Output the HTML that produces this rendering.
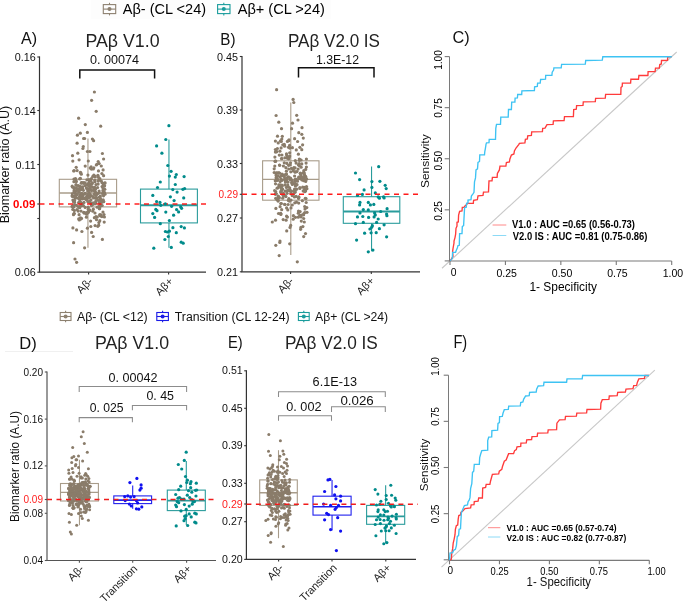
<!DOCTYPE html>
<html><head><meta charset="utf-8"><style>
html,body{margin:0;padding:0;background:#fff;}
svg{display:block;font-family:"Liberation Sans", sans-serif;will-change:transform;}
</style></head><body>
<svg width="685" height="601" viewBox="0 0 685 601">
<rect width="685" height="601" fill="#fff"/>
<rect x="91" y="0" width="240" height="19" fill="#fdfdfd"/>
<rect x="103.3" y="4.6" width="12.4" height="9" fill="none" stroke="#8d8170" stroke-width="1.1"/>
<line x1="103.3" y1="9.1" x2="115.7" y2="9.1" stroke="#8d8170" stroke-width="1.1"/>
<line x1="109.5" y1="2.8" x2="109.5" y2="4.6" stroke="#8d8170" stroke-width="1.1"/>
<line x1="109.5" y1="13.6" x2="109.5" y2="15.4" stroke="#8d8170" stroke-width="1.1"/>
<circle cx="109.5" cy="9.1" r="2.0" fill="#8d8170"/>
<text x="122.8" y="14.3" font-size="14.3" fill="#000" font-weight="normal" text-anchor="start" textLength="83.3" lengthAdjust="spacingAndGlyphs">Aβ- (CL &lt;24)</text>
<rect x="217.6" y="4.6" width="12.4" height="9" fill="none" stroke="#1a9c9c" stroke-width="1.1"/>
<line x1="217.6" y1="9.1" x2="230.0" y2="9.1" stroke="#1a9c9c" stroke-width="1.1"/>
<line x1="223.79999999999998" y1="2.8" x2="223.79999999999998" y2="4.6" stroke="#1a9c9c" stroke-width="1.1"/>
<line x1="223.79999999999998" y1="13.6" x2="223.79999999999998" y2="15.4" stroke="#1a9c9c" stroke-width="1.1"/>
<circle cx="223.8" cy="9.1" r="2.0" fill="#1a9c9c"/>
<text x="237.7" y="14.3" font-size="14.3" fill="#000" font-weight="normal" text-anchor="start" textLength="87.2" lengthAdjust="spacingAndGlyphs">Aβ+ (CL &gt;24)</text>
<text x="21" y="44.4" font-size="17.2" fill="#111" font-weight="normal" text-anchor="start" textLength="16.1" lengthAdjust="spacingAndGlyphs">A)</text>
<text x="85.5" y="46.7" font-size="18" fill="#222" font-weight="normal" text-anchor="start" textLength="74" lengthAdjust="spacingAndGlyphs">PAβ V1.0</text>
<text x="90" y="64.4" font-size="12" fill="#111" font-weight="normal" text-anchor="start" textLength="49" lengthAdjust="spacingAndGlyphs">0. 00074</text>
<path d="M79.8,78.5 V70 H154.6 V78.5" stroke="#111" stroke-width="1.5" fill="none"/>
<text x="0" y="0" font-size="13.4" fill="#111" font-weight="normal" text-anchor="middle" textLength="117.5" lengthAdjust="spacingAndGlyphs" transform="translate(9.2,164.6) rotate(-90)">Biomarker ratio (A.U)</text>
<line x1="39.5" y1="56.4" x2="39.5" y2="272.2" stroke="#333" stroke-width="1.2"/>
<line x1="37.3" y1="57" x2="39.5" y2="57" stroke="#333" stroke-width="1.1"/>
<line x1="37.3" y1="110.5" x2="39.5" y2="110.5" stroke="#333" stroke-width="1.1"/>
<line x1="37.3" y1="164.5" x2="39.5" y2="164.5" stroke="#333" stroke-width="1.1"/>
<line x1="37.3" y1="204" x2="39.5" y2="204" stroke="#333" stroke-width="1.1"/>
<line x1="37.3" y1="218.5" x2="39.5" y2="218.5" stroke="#333" stroke-width="1.1"/>
<line x1="37.3" y1="272.2" x2="39.5" y2="272.2" stroke="#333" stroke-width="1.1"/>
<text x="35.8" y="61" font-size="10.8" fill="#111" font-weight="normal" text-anchor="end">0.16</text>
<text x="35.8" y="114.5" font-size="10.8" fill="#111" font-weight="normal" text-anchor="end">0.14</text>
<text x="35.8" y="168.5" font-size="10.8" fill="#111" font-weight="normal" text-anchor="end">0.11</text>
<text x="35.8" y="276" font-size="10.8" fill="#111" font-weight="normal" text-anchor="end">0.06</text>
<text x="35.3" y="208.3" font-size="11.2" fill="#ff0000" font-weight="bold" text-anchor="end" textLength="22.3" lengthAdjust="spacingAndGlyphs">0.09</text>
<line x1="38.9" y1="272.2" x2="206" y2="272.2" stroke="#333" stroke-width="1.2"/>
<line x1="88.6" y1="272.2" x2="88.6" y2="274.4" stroke="#333" stroke-width="1.1"/>
<line x1="168.6" y1="272.2" x2="168.6" y2="274.4" stroke="#333" stroke-width="1.1"/>
<line x1="87.94999999999999" y1="138.5" x2="87.94999999999999" y2="179.3" stroke="#a89c8a" stroke-width="1.1"/>
<line x1="87.94999999999999" y1="206.9" x2="87.94999999999999" y2="247.8" stroke="#a89c8a" stroke-width="1.1"/>
<rect x="59.3" y="179.3" width="57.3" height="27.599999999999994" fill="none" stroke="#a89c8a" stroke-width="1.1"/>
<line x1="59.3" y1="193" x2="116.6" y2="193" stroke="#a89c8a" stroke-width="1.4"/>
<line x1="168.95" y1="139.5" x2="168.95" y2="189.1" stroke="#2a9c9c" stroke-width="1.1"/>
<line x1="168.95" y1="222.9" x2="168.95" y2="247.7" stroke="#2a9c9c" stroke-width="1.1"/>
<rect x="140.5" y="189.1" width="56.900000000000006" height="33.80000000000001" fill="none" stroke="#2a9c9c" stroke-width="1.1"/>
<line x1="140.5" y1="205.3" x2="197.4" y2="205.3" stroke="#2a9c9c" stroke-width="2"/>
<circle cx="93.6" cy="189.9" r="1.6" fill="#8a7c6a"/>
<circle cx="74.5" cy="202.2" r="1.6" fill="#8a7c6a"/>
<circle cx="74.0" cy="179.1" r="1.6" fill="#8a7c6a"/>
<circle cx="88.8" cy="190.6" r="1.6" fill="#8a7c6a"/>
<circle cx="74.4" cy="210.6" r="1.6" fill="#8a7c6a"/>
<circle cx="75.1" cy="198.0" r="1.6" fill="#8a7c6a"/>
<circle cx="76.2" cy="167.3" r="1.6" fill="#8a7c6a"/>
<circle cx="79.5" cy="207.7" r="1.6" fill="#8a7c6a"/>
<circle cx="91.1" cy="166.9" r="1.6" fill="#8a7c6a"/>
<circle cx="85.2" cy="166.1" r="1.6" fill="#8a7c6a"/>
<circle cx="100.4" cy="198.9" r="1.6" fill="#8a7c6a"/>
<circle cx="81.7" cy="193.3" r="1.6" fill="#8a7c6a"/>
<circle cx="82.3" cy="198.9" r="1.6" fill="#8a7c6a"/>
<circle cx="99.0" cy="200.3" r="1.6" fill="#8a7c6a"/>
<circle cx="93.2" cy="202.9" r="1.6" fill="#8a7c6a"/>
<circle cx="84.4" cy="213.2" r="1.6" fill="#8a7c6a"/>
<circle cx="74.1" cy="188.5" r="1.6" fill="#8a7c6a"/>
<circle cx="78.9" cy="192.3" r="1.6" fill="#8a7c6a"/>
<circle cx="82.5" cy="186.8" r="1.6" fill="#8a7c6a"/>
<circle cx="91.4" cy="178.7" r="1.6" fill="#8a7c6a"/>
<circle cx="98.3" cy="181.1" r="1.6" fill="#8a7c6a"/>
<circle cx="95.2" cy="197.9" r="1.6" fill="#8a7c6a"/>
<circle cx="89.4" cy="194.8" r="1.6" fill="#8a7c6a"/>
<circle cx="101.0" cy="214.9" r="1.6" fill="#8a7c6a"/>
<circle cx="104.4" cy="192.3" r="1.6" fill="#8a7c6a"/>
<circle cx="76.0" cy="180.9" r="1.6" fill="#8a7c6a"/>
<circle cx="77.1" cy="170.6" r="1.6" fill="#8a7c6a"/>
<circle cx="88.2" cy="207.2" r="1.6" fill="#8a7c6a"/>
<circle cx="97.3" cy="217.0" r="1.6" fill="#8a7c6a"/>
<circle cx="91.0" cy="199.8" r="1.6" fill="#8a7c6a"/>
<circle cx="95.0" cy="203.8" r="1.6" fill="#8a7c6a"/>
<circle cx="91.7" cy="184.2" r="1.6" fill="#8a7c6a"/>
<circle cx="99.8" cy="178.5" r="1.6" fill="#8a7c6a"/>
<circle cx="103.3" cy="185.5" r="1.6" fill="#8a7c6a"/>
<circle cx="74.1" cy="170.7" r="1.6" fill="#8a7c6a"/>
<circle cx="95.2" cy="197.8" r="1.6" fill="#8a7c6a"/>
<circle cx="99.2" cy="163.6" r="1.6" fill="#8a7c6a"/>
<circle cx="94.2" cy="190.6" r="1.6" fill="#8a7c6a"/>
<circle cx="72.8" cy="209.4" r="1.6" fill="#8a7c6a"/>
<circle cx="76.0" cy="184.6" r="1.6" fill="#8a7c6a"/>
<circle cx="74.0" cy="196.3" r="1.6" fill="#8a7c6a"/>
<circle cx="80.3" cy="195.0" r="1.6" fill="#8a7c6a"/>
<circle cx="85.0" cy="185.6" r="1.6" fill="#8a7c6a"/>
<circle cx="86.9" cy="198.5" r="1.6" fill="#8a7c6a"/>
<circle cx="90.2" cy="189.3" r="1.6" fill="#8a7c6a"/>
<circle cx="100.6" cy="216.0" r="1.6" fill="#8a7c6a"/>
<circle cx="81.3" cy="174.2" r="1.6" fill="#8a7c6a"/>
<circle cx="101.3" cy="181.0" r="1.6" fill="#8a7c6a"/>
<circle cx="103.7" cy="201.7" r="1.6" fill="#8a7c6a"/>
<circle cx="79.8" cy="199.8" r="1.6" fill="#8a7c6a"/>
<circle cx="79.8" cy="202.1" r="1.6" fill="#8a7c6a"/>
<circle cx="80.8" cy="172.8" r="1.6" fill="#8a7c6a"/>
<circle cx="72.2" cy="196.0" r="1.6" fill="#8a7c6a"/>
<circle cx="90.8" cy="180.6" r="1.6" fill="#8a7c6a"/>
<circle cx="103.6" cy="201.5" r="1.6" fill="#8a7c6a"/>
<circle cx="92.5" cy="187.0" r="1.6" fill="#8a7c6a"/>
<circle cx="94.4" cy="176.1" r="1.6" fill="#8a7c6a"/>
<circle cx="97.8" cy="226.3" r="1.6" fill="#8a7c6a"/>
<circle cx="101.0" cy="205.4" r="1.6" fill="#8a7c6a"/>
<circle cx="85.3" cy="198.7" r="1.6" fill="#8a7c6a"/>
<circle cx="75.5" cy="178.7" r="1.6" fill="#8a7c6a"/>
<circle cx="74.3" cy="190.2" r="1.6" fill="#8a7c6a"/>
<circle cx="79.0" cy="189.7" r="1.6" fill="#8a7c6a"/>
<circle cx="73.8" cy="201.6" r="1.6" fill="#8a7c6a"/>
<circle cx="72.1" cy="206.4" r="1.6" fill="#8a7c6a"/>
<circle cx="84.1" cy="198.3" r="1.6" fill="#8a7c6a"/>
<circle cx="72.9" cy="200.0" r="1.6" fill="#8a7c6a"/>
<circle cx="77.0" cy="209.5" r="1.6" fill="#8a7c6a"/>
<circle cx="80.4" cy="178.3" r="1.6" fill="#8a7c6a"/>
<circle cx="76.2" cy="185.3" r="1.6" fill="#8a7c6a"/>
<circle cx="100.1" cy="206.5" r="1.6" fill="#8a7c6a"/>
<circle cx="88.1" cy="211.9" r="1.6" fill="#8a7c6a"/>
<circle cx="74.9" cy="193.2" r="1.6" fill="#8a7c6a"/>
<circle cx="80.8" cy="205.7" r="1.6" fill="#8a7c6a"/>
<circle cx="99.5" cy="202.8" r="1.6" fill="#8a7c6a"/>
<circle cx="103.5" cy="195.8" r="1.6" fill="#8a7c6a"/>
<circle cx="89.5" cy="196.9" r="1.6" fill="#8a7c6a"/>
<circle cx="73.0" cy="206.1" r="1.6" fill="#8a7c6a"/>
<circle cx="89.5" cy="209.9" r="1.6" fill="#8a7c6a"/>
<circle cx="95.1" cy="225.6" r="1.6" fill="#8a7c6a"/>
<circle cx="80.7" cy="189.7" r="1.6" fill="#8a7c6a"/>
<circle cx="97.6" cy="187.5" r="1.6" fill="#8a7c6a"/>
<circle cx="89.7" cy="201.2" r="1.6" fill="#8a7c6a"/>
<circle cx="79.5" cy="196.6" r="1.6" fill="#8a7c6a"/>
<circle cx="98.9" cy="179.9" r="1.6" fill="#8a7c6a"/>
<circle cx="98.7" cy="225.2" r="1.6" fill="#8a7c6a"/>
<circle cx="99.1" cy="191.0" r="1.6" fill="#8a7c6a"/>
<circle cx="89.2" cy="193.3" r="1.6" fill="#8a7c6a"/>
<circle cx="83.8" cy="182.5" r="1.6" fill="#8a7c6a"/>
<circle cx="81.3" cy="197.7" r="1.6" fill="#8a7c6a"/>
<circle cx="80.7" cy="194.7" r="1.6" fill="#8a7c6a"/>
<circle cx="86.9" cy="179.8" r="1.6" fill="#8a7c6a"/>
<circle cx="103.6" cy="175.7" r="1.6" fill="#8a7c6a"/>
<circle cx="79.6" cy="186.6" r="1.6" fill="#8a7c6a"/>
<circle cx="78.6" cy="202.5" r="1.6" fill="#8a7c6a"/>
<circle cx="101.8" cy="200.3" r="1.6" fill="#8a7c6a"/>
<circle cx="99.8" cy="215.5" r="1.6" fill="#8a7c6a"/>
<circle cx="98.5" cy="170.9" r="1.6" fill="#8a7c6a"/>
<circle cx="74.9" cy="197.0" r="1.6" fill="#8a7c6a"/>
<circle cx="97.9" cy="175.3" r="1.6" fill="#8a7c6a"/>
<circle cx="96.9" cy="164.3" r="1.6" fill="#8a7c6a"/>
<circle cx="98.1" cy="184.1" r="1.6" fill="#8a7c6a"/>
<circle cx="83.1" cy="195.4" r="1.6" fill="#8a7c6a"/>
<circle cx="85.2" cy="207.4" r="1.6" fill="#8a7c6a"/>
<circle cx="96.0" cy="216.5" r="1.6" fill="#8a7c6a"/>
<circle cx="77.1" cy="198.0" r="1.6" fill="#8a7c6a"/>
<circle cx="102.0" cy="201.3" r="1.6" fill="#8a7c6a"/>
<circle cx="99.4" cy="197.1" r="1.6" fill="#8a7c6a"/>
<circle cx="104.5" cy="185.6" r="1.6" fill="#8a7c6a"/>
<circle cx="90.2" cy="185.8" r="1.6" fill="#8a7c6a"/>
<circle cx="76.4" cy="181.6" r="1.6" fill="#8a7c6a"/>
<circle cx="93.5" cy="197.8" r="1.6" fill="#8a7c6a"/>
<circle cx="86.4" cy="187.8" r="1.6" fill="#8a7c6a"/>
<circle cx="79.1" cy="214.7" r="1.6" fill="#8a7c6a"/>
<circle cx="80.4" cy="172.4" r="1.6" fill="#8a7c6a"/>
<circle cx="91.5" cy="190.8" r="1.6" fill="#8a7c6a"/>
<circle cx="80.7" cy="205.4" r="1.6" fill="#8a7c6a"/>
<circle cx="102.1" cy="186.6" r="1.6" fill="#8a7c6a"/>
<circle cx="83.8" cy="198.1" r="1.6" fill="#8a7c6a"/>
<circle cx="101.9" cy="173.6" r="1.6" fill="#8a7c6a"/>
<circle cx="86.0" cy="199.5" r="1.6" fill="#8a7c6a"/>
<circle cx="89.7" cy="210.4" r="1.6" fill="#8a7c6a"/>
<circle cx="89.4" cy="184.7" r="1.6" fill="#8a7c6a"/>
<circle cx="78.1" cy="211.1" r="1.6" fill="#8a7c6a"/>
<circle cx="72.2" cy="196.0" r="1.6" fill="#8a7c6a"/>
<circle cx="87.7" cy="197.0" r="1.6" fill="#8a7c6a"/>
<circle cx="96.0" cy="184.6" r="1.6" fill="#8a7c6a"/>
<circle cx="89.2" cy="180.7" r="1.6" fill="#8a7c6a"/>
<circle cx="90.4" cy="189.1" r="1.6" fill="#8a7c6a"/>
<circle cx="90.6" cy="195.6" r="1.6" fill="#8a7c6a"/>
<circle cx="80.3" cy="186.6" r="1.6" fill="#8a7c6a"/>
<circle cx="88.9" cy="189.4" r="1.6" fill="#8a7c6a"/>
<circle cx="90.6" cy="221.1" r="1.6" fill="#8a7c6a"/>
<circle cx="86.7" cy="196.2" r="1.6" fill="#8a7c6a"/>
<circle cx="89.0" cy="179.6" r="1.6" fill="#8a7c6a"/>
<circle cx="95.0" cy="181.7" r="1.6" fill="#8a7c6a"/>
<circle cx="87.9" cy="175.1" r="1.6" fill="#8a7c6a"/>
<circle cx="103.2" cy="199.8" r="1.6" fill="#8a7c6a"/>
<circle cx="103.2" cy="183.7" r="1.6" fill="#8a7c6a"/>
<circle cx="103.2" cy="192.8" r="1.6" fill="#8a7c6a"/>
<circle cx="99.8" cy="214.5" r="1.6" fill="#8a7c6a"/>
<circle cx="86.7" cy="199.3" r="1.6" fill="#8a7c6a"/>
<circle cx="74.5" cy="200.2" r="1.6" fill="#8a7c6a"/>
<circle cx="94.2" cy="194.4" r="1.6" fill="#8a7c6a"/>
<circle cx="98.0" cy="200.2" r="1.6" fill="#8a7c6a"/>
<circle cx="95.7" cy="201.4" r="1.6" fill="#8a7c6a"/>
<circle cx="93.9" cy="188.4" r="1.6" fill="#8a7c6a"/>
<circle cx="104.0" cy="214.6" r="1.6" fill="#8a7c6a"/>
<circle cx="79.3" cy="219.9" r="1.6" fill="#8a7c6a"/>
<circle cx="88.2" cy="209.4" r="1.6" fill="#8a7c6a"/>
<circle cx="104.8" cy="189.3" r="1.6" fill="#8a7c6a"/>
<circle cx="86.3" cy="198.7" r="1.6" fill="#8a7c6a"/>
<circle cx="89.1" cy="185.8" r="1.6" fill="#8a7c6a"/>
<circle cx="82.6" cy="188.4" r="1.6" fill="#8a7c6a"/>
<circle cx="95.9" cy="202.9" r="1.6" fill="#8a7c6a"/>
<circle cx="86.6" cy="214.2" r="1.6" fill="#8a7c6a"/>
<circle cx="72.7" cy="196.5" r="1.6" fill="#8a7c6a"/>
<circle cx="89.0" cy="183.0" r="1.6" fill="#8a7c6a"/>
<circle cx="74.2" cy="213.5" r="1.6" fill="#8a7c6a"/>
<circle cx="104.2" cy="222.1" r="1.6" fill="#8a7c6a"/>
<circle cx="75.6" cy="191.4" r="1.6" fill="#8a7c6a"/>
<circle cx="97.8" cy="193.6" r="1.6" fill="#8a7c6a"/>
<circle cx="81.0" cy="198.5" r="1.6" fill="#8a7c6a"/>
<circle cx="102.2" cy="205.5" r="1.6" fill="#8a7c6a"/>
<circle cx="99.1" cy="206.2" r="1.6" fill="#8a7c6a"/>
<circle cx="102.4" cy="193.5" r="1.6" fill="#8a7c6a"/>
<circle cx="90.9" cy="203.1" r="1.6" fill="#8a7c6a"/>
<circle cx="74.0" cy="191.9" r="1.6" fill="#8a7c6a"/>
<circle cx="94.8" cy="187.4" r="1.6" fill="#8a7c6a"/>
<circle cx="103.1" cy="188.5" r="1.6" fill="#8a7c6a"/>
<circle cx="93.0" cy="196.8" r="1.6" fill="#8a7c6a"/>
<circle cx="100.4" cy="196.1" r="1.6" fill="#8a7c6a"/>
<circle cx="74.3" cy="187.7" r="1.6" fill="#8a7c6a"/>
<circle cx="83.3" cy="205.5" r="1.6" fill="#8a7c6a"/>
<circle cx="90.4" cy="180.6" r="1.6" fill="#8a7c6a"/>
<circle cx="76.4" cy="205.3" r="1.6" fill="#8a7c6a"/>
<circle cx="89.5" cy="188.4" r="1.6" fill="#8a7c6a"/>
<circle cx="77.4" cy="194.6" r="1.6" fill="#8a7c6a"/>
<circle cx="73.8" cy="201.7" r="1.6" fill="#8a7c6a"/>
<circle cx="82.2" cy="198.1" r="1.6" fill="#8a7c6a"/>
<circle cx="97.2" cy="207.2" r="1.6" fill="#8a7c6a"/>
<circle cx="78.0" cy="189.3" r="1.6" fill="#8a7c6a"/>
<circle cx="83.6" cy="212.3" r="1.6" fill="#8a7c6a"/>
<circle cx="72.6" cy="206.1" r="1.6" fill="#8a7c6a"/>
<circle cx="96.3" cy="195.4" r="1.6" fill="#8a7c6a"/>
<circle cx="87.8" cy="184.2" r="1.6" fill="#8a7c6a"/>
<circle cx="102.9" cy="190.7" r="1.6" fill="#8a7c6a"/>
<circle cx="86.4" cy="217.2" r="1.6" fill="#8a7c6a"/>
<circle cx="88.4" cy="212.3" r="1.6" fill="#8a7c6a"/>
<circle cx="88.8" cy="202.1" r="1.6" fill="#8a7c6a"/>
<circle cx="94.8" cy="180.2" r="1.6" fill="#8a7c6a"/>
<circle cx="99.6" cy="208.6" r="1.6" fill="#8a7c6a"/>
<circle cx="95.4" cy="192.4" r="1.6" fill="#8a7c6a"/>
<circle cx="83.6" cy="183.3" r="1.6" fill="#8a7c6a"/>
<circle cx="73.9" cy="181.7" r="1.6" fill="#8a7c6a"/>
<circle cx="96.5" cy="198.2" r="1.6" fill="#8a7c6a"/>
<circle cx="80.5" cy="198.5" r="1.6" fill="#8a7c6a"/>
<circle cx="99.9" cy="197.5" r="1.6" fill="#8a7c6a"/>
<circle cx="100.8" cy="199.7" r="1.6" fill="#8a7c6a"/>
<circle cx="80.1" cy="187.8" r="1.6" fill="#8a7c6a"/>
<circle cx="81.8" cy="182.6" r="1.6" fill="#8a7c6a"/>
<circle cx="86.8" cy="184.9" r="1.6" fill="#8a7c6a"/>
<circle cx="80.8" cy="196.4" r="1.6" fill="#8a7c6a"/>
<circle cx="90.2" cy="183.8" r="1.6" fill="#8a7c6a"/>
<circle cx="82.3" cy="195.4" r="1.6" fill="#8a7c6a"/>
<circle cx="84.7" cy="193.5" r="1.6" fill="#8a7c6a"/>
<circle cx="87.8" cy="194.6" r="1.6" fill="#8a7c6a"/>
<circle cx="88.8" cy="183.3" r="1.6" fill="#8a7c6a"/>
<circle cx="72.3" cy="193.8" r="1.6" fill="#8a7c6a"/>
<circle cx="85.3" cy="193.4" r="1.6" fill="#8a7c6a"/>
<circle cx="73.5" cy="200.9" r="1.6" fill="#8a7c6a"/>
<circle cx="79.8" cy="207.5" r="1.6" fill="#8a7c6a"/>
<circle cx="91.4" cy="195.9" r="1.6" fill="#8a7c6a"/>
<circle cx="93.8" cy="167.8" r="1.6" fill="#8a7c6a"/>
<circle cx="95.7" cy="189.1" r="1.6" fill="#8a7c6a"/>
<circle cx="82.9" cy="205.5" r="1.6" fill="#8a7c6a"/>
<circle cx="104.6" cy="183.1" r="1.6" fill="#8a7c6a"/>
<circle cx="93.3" cy="209.2" r="1.6" fill="#8a7c6a"/>
<circle cx="73.5" cy="214.7" r="1.6" fill="#8a7c6a"/>
<circle cx="92.8" cy="211.2" r="1.6" fill="#8a7c6a"/>
<circle cx="96.3" cy="165.0" r="1.6" fill="#8a7c6a"/>
<circle cx="89.4" cy="197.3" r="1.6" fill="#8a7c6a"/>
<circle cx="88.7" cy="185.9" r="1.6" fill="#8a7c6a"/>
<circle cx="99.4" cy="208.7" r="1.6" fill="#8a7c6a"/>
<circle cx="91.4" cy="169.1" r="1.6" fill="#8a7c6a"/>
<circle cx="95.0" cy="213.0" r="1.6" fill="#8a7c6a"/>
<circle cx="79.7" cy="178.9" r="1.6" fill="#8a7c6a"/>
<circle cx="84.0" cy="202.4" r="1.6" fill="#8a7c6a"/>
<circle cx="75.6" cy="195.7" r="1.6" fill="#8a7c6a"/>
<circle cx="92.8" cy="204.5" r="1.6" fill="#8a7c6a"/>
<circle cx="92.8" cy="176.4" r="1.6" fill="#8a7c6a"/>
<circle cx="72.2" cy="186.2" r="1.6" fill="#8a7c6a"/>
<circle cx="98.4" cy="177.2" r="1.6" fill="#8a7c6a"/>
<circle cx="89.8" cy="193.8" r="1.6" fill="#8a7c6a"/>
<circle cx="93.9" cy="175.1" r="1.6" fill="#8a7c6a"/>
<circle cx="80.4" cy="217.9" r="1.6" fill="#8a7c6a"/>
<circle cx="74.6" cy="204.5" r="1.6" fill="#8a7c6a"/>
<circle cx="78.9" cy="191.5" r="1.6" fill="#8a7c6a"/>
<circle cx="96.5" cy="219.7" r="1.6" fill="#8a7c6a"/>
<circle cx="84.7" cy="212.5" r="1.6" fill="#8a7c6a"/>
<circle cx="87.9" cy="191.2" r="1.6" fill="#8a7c6a"/>
<circle cx="92.5" cy="182.9" r="1.6" fill="#8a7c6a"/>
<circle cx="93.3" cy="169.0" r="1.6" fill="#8a7c6a"/>
<circle cx="80.5" cy="202.0" r="1.6" fill="#8a7c6a"/>
<circle cx="96.6" cy="198.2" r="1.6" fill="#8a7c6a"/>
<circle cx="72.5" cy="187.1" r="1.6" fill="#8a7c6a"/>
<circle cx="74.1" cy="213.5" r="1.6" fill="#8a7c6a"/>
<circle cx="94.9" cy="191.2" r="1.6" fill="#8a7c6a"/>
<circle cx="94.4" cy="217.7" r="1.6" fill="#8a7c6a"/>
<circle cx="87.4" cy="189.1" r="1.6" fill="#8a7c6a"/>
<circle cx="87.5" cy="212.7" r="1.6" fill="#8a7c6a"/>
<circle cx="78.7" cy="218.9" r="1.6" fill="#8a7c6a"/>
<circle cx="104.4" cy="217.0" r="1.6" fill="#8a7c6a"/>
<circle cx="87.2" cy="196.8" r="1.6" fill="#8a7c6a"/>
<circle cx="99.2" cy="192.8" r="1.6" fill="#8a7c6a"/>
<circle cx="81.0" cy="211.1" r="1.6" fill="#8a7c6a"/>
<circle cx="79.0" cy="190.5" r="1.6" fill="#8a7c6a"/>
<circle cx="91.3" cy="204.4" r="1.6" fill="#8a7c6a"/>
<circle cx="76.8" cy="190.3" r="1.6" fill="#8a7c6a"/>
<circle cx="76.5" cy="188.0" r="1.6" fill="#8a7c6a"/>
<circle cx="101.4" cy="202.1" r="1.6" fill="#8a7c6a"/>
<circle cx="95.3" cy="176.7" r="1.6" fill="#8a7c6a"/>
<circle cx="88.1" cy="198.0" r="1.6" fill="#8a7c6a"/>
<circle cx="72.9" cy="227.9" r="1.6" fill="#8a7c6a"/>
<circle cx="87.0" cy="212.6" r="1.6" fill="#8a7c6a"/>
<circle cx="82.1" cy="194.4" r="1.6" fill="#8a7c6a"/>
<circle cx="82.5" cy="203.3" r="1.6" fill="#8a7c6a"/>
<circle cx="99.8" cy="205.4" r="1.6" fill="#8a7c6a"/>
<circle cx="99.8" cy="220.7" r="1.6" fill="#8a7c6a"/>
<circle cx="76.1" cy="194.3" r="1.6" fill="#8a7c6a"/>
<circle cx="101.9" cy="216.6" r="1.6" fill="#8a7c6a"/>
<circle cx="81.7" cy="182.7" r="1.6" fill="#8a7c6a"/>
<circle cx="105.1" cy="182.9" r="1.6" fill="#8a7c6a"/>
<circle cx="91.5" cy="205.5" r="1.6" fill="#8a7c6a"/>
<circle cx="81.2" cy="183.2" r="1.6" fill="#8a7c6a"/>
<circle cx="73.7" cy="207.0" r="1.6" fill="#8a7c6a"/>
<circle cx="81.5" cy="218.4" r="1.6" fill="#8a7c6a"/>
<circle cx="103.0" cy="212.1" r="1.6" fill="#8a7c6a"/>
<circle cx="89.0" cy="194.1" r="1.6" fill="#8a7c6a"/>
<circle cx="78.4" cy="206.6" r="1.6" fill="#8a7c6a"/>
<circle cx="101.3" cy="166.0" r="1.6" fill="#8a7c6a"/>
<circle cx="98.9" cy="222.6" r="1.6" fill="#8a7c6a"/>
<circle cx="103.1" cy="169.9" r="1.6" fill="#8a7c6a"/>
<circle cx="90.2" cy="168.1" r="1.6" fill="#8a7c6a"/>
<circle cx="96.3" cy="193.0" r="1.6" fill="#8a7c6a"/>
<circle cx="87.0" cy="189.0" r="1.6" fill="#8a7c6a"/>
<circle cx="81.5" cy="194.4" r="1.6" fill="#8a7c6a"/>
<circle cx="73.7" cy="171.0" r="1.6" fill="#8a7c6a"/>
<circle cx="87.7" cy="201.5" r="1.6" fill="#8a7c6a"/>
<circle cx="83.4" cy="190.3" r="1.6" fill="#8a7c6a"/>
<circle cx="104.3" cy="186.2" r="1.6" fill="#8a7c6a"/>
<circle cx="80.7" cy="219.1" r="1.6" fill="#8a7c6a"/>
<circle cx="90.5" cy="186.5" r="1.6" fill="#8a7c6a"/>
<circle cx="85.1" cy="182.8" r="1.6" fill="#8a7c6a"/>
<circle cx="79.0" cy="198.7" r="1.6" fill="#8a7c6a"/>
<circle cx="102.0" cy="202.2" r="1.6" fill="#8a7c6a"/>
<circle cx="102.0" cy="182.7" r="1.6" fill="#8a7c6a"/>
<circle cx="105.0" cy="194.2" r="1.6" fill="#8a7c6a"/>
<circle cx="78.4" cy="185.7" r="1.6" fill="#8a7c6a"/>
<circle cx="75.1" cy="196.7" r="1.6" fill="#8a7c6a"/>
<circle cx="94.4" cy="92.0" r="1.6" fill="#8a7c6a"/>
<circle cx="91.6" cy="100.3" r="1.6" fill="#8a7c6a"/>
<circle cx="96.2" cy="111.3" r="1.6" fill="#8a7c6a"/>
<circle cx="78.6" cy="118.2" r="1.6" fill="#8a7c6a"/>
<circle cx="85.3" cy="124.6" r="1.6" fill="#8a7c6a"/>
<circle cx="100.7" cy="126.2" r="1.6" fill="#8a7c6a"/>
<circle cx="77.4" cy="135.2" r="1.6" fill="#8a7c6a"/>
<circle cx="80.3" cy="133.2" r="1.6" fill="#8a7c6a"/>
<circle cx="87.4" cy="132.4" r="1.6" fill="#8a7c6a"/>
<circle cx="83.6" cy="138.5" r="1.6" fill="#8a7c6a"/>
<circle cx="84.6" cy="138.5" r="1.6" fill="#8a7c6a"/>
<circle cx="92.4" cy="139.0" r="1.6" fill="#8a7c6a"/>
<circle cx="93.6" cy="140.7" r="1.6" fill="#8a7c6a"/>
<circle cx="77.1" cy="143.2" r="1.6" fill="#8a7c6a"/>
<circle cx="83.3" cy="146.5" r="1.6" fill="#8a7c6a"/>
<circle cx="82.9" cy="148.5" r="1.6" fill="#8a7c6a"/>
<circle cx="77.8" cy="153.2" r="1.6" fill="#8a7c6a"/>
<circle cx="87.4" cy="151.5" r="1.6" fill="#8a7c6a"/>
<circle cx="89.9" cy="151.5" r="1.6" fill="#8a7c6a"/>
<circle cx="102.4" cy="153.5" r="1.6" fill="#8a7c6a"/>
<circle cx="72.5" cy="155.7" r="1.6" fill="#8a7c6a"/>
<circle cx="72.8" cy="161.1" r="1.6" fill="#8a7c6a"/>
<circle cx="79.1" cy="159.8" r="1.6" fill="#8a7c6a"/>
<circle cx="88.3" cy="161.0" r="1.6" fill="#8a7c6a"/>
<circle cx="98.2" cy="161.5" r="1.6" fill="#8a7c6a"/>
<circle cx="103.6" cy="159.0" r="1.6" fill="#8a7c6a"/>
<circle cx="73.6" cy="242.7" r="1.6" fill="#8a7c6a"/>
<circle cx="84.6" cy="247.8" r="1.6" fill="#8a7c6a"/>
<circle cx="102.4" cy="239.4" r="1.6" fill="#8a7c6a"/>
<circle cx="75.0" cy="259.0" r="1.6" fill="#8a7c6a"/>
<circle cx="76.6" cy="262.3" r="1.6" fill="#8a7c6a"/>
<circle cx="76.6" cy="229.9" r="1.6" fill="#8a7c6a"/>
<circle cx="81.9" cy="231.5" r="1.6" fill="#8a7c6a"/>
<circle cx="91.6" cy="232.4" r="1.6" fill="#8a7c6a"/>
<circle cx="93.2" cy="236.5" r="1.6" fill="#8a7c6a"/>
<circle cx="87.4" cy="228.2" r="1.6" fill="#8a7c6a"/>
<circle cx="90.8" cy="226.5" r="1.6" fill="#8a7c6a"/>
<line x1="39.5" y1="203.9" x2="206" y2="203.9" stroke="#ff0000" stroke-opacity="0.65" stroke-width="2.0" stroke-dasharray="5,4.5"/>
<circle cx="168.9" cy="125.7" r="1.6" fill="#008b8b"/>
<circle cx="165.8" cy="139.5" r="1.6" fill="#008b8b"/>
<circle cx="156.6" cy="145.9" r="1.6" fill="#008b8b"/>
<circle cx="161.9" cy="153.2" r="1.6" fill="#008b8b"/>
<circle cx="167.8" cy="165.5" r="1.6" fill="#008b8b"/>
<circle cx="171.1" cy="171.3" r="1.6" fill="#008b8b"/>
<circle cx="176.3" cy="174.5" r="1.6" fill="#008b8b"/>
<circle cx="169.4" cy="176.1" r="1.6" fill="#008b8b"/>
<circle cx="175.3" cy="177.1" r="1.6" fill="#008b8b"/>
<circle cx="184.1" cy="176.6" r="1.6" fill="#008b8b"/>
<circle cx="160.3" cy="182.0" r="1.6" fill="#008b8b"/>
<circle cx="175.3" cy="184.5" r="1.6" fill="#008b8b"/>
<circle cx="157.5" cy="187.5" r="1.6" fill="#008b8b"/>
<circle cx="172.8" cy="189.6" r="1.6" fill="#008b8b"/>
<circle cx="177.1" cy="192.1" r="1.6" fill="#008b8b"/>
<circle cx="182.9" cy="189.3" r="1.6" fill="#008b8b"/>
<circle cx="184.6" cy="188.6" r="1.6" fill="#008b8b"/>
<circle cx="152.8" cy="195.4" r="1.6" fill="#008b8b"/>
<circle cx="170.4" cy="196.8" r="1.6" fill="#008b8b"/>
<circle cx="183.7" cy="197.9" r="1.6" fill="#008b8b"/>
<circle cx="174.1" cy="200.6" r="1.6" fill="#008b8b"/>
<circle cx="156.6" cy="201.6" r="1.6" fill="#008b8b"/>
<circle cx="160.0" cy="202.4" r="1.6" fill="#008b8b"/>
<circle cx="165.3" cy="203.8" r="1.6" fill="#008b8b"/>
<circle cx="160.8" cy="205.3" r="1.6" fill="#008b8b"/>
<circle cx="171.6" cy="206.3" r="1.6" fill="#008b8b"/>
<circle cx="180.7" cy="206.9" r="1.6" fill="#008b8b"/>
<circle cx="181.6" cy="208.3" r="1.6" fill="#008b8b"/>
<circle cx="155.8" cy="209.4" r="1.6" fill="#008b8b"/>
<circle cx="157.0" cy="210.7" r="1.6" fill="#008b8b"/>
<circle cx="176.6" cy="209.6" r="1.6" fill="#008b8b"/>
<circle cx="178.6" cy="211.9" r="1.6" fill="#008b8b"/>
<circle cx="165.8" cy="212.1" r="1.6" fill="#008b8b"/>
<circle cx="152.8" cy="213.6" r="1.6" fill="#008b8b"/>
<circle cx="173.6" cy="215.2" r="1.6" fill="#008b8b"/>
<circle cx="154.6" cy="217.4" r="1.6" fill="#008b8b"/>
<circle cx="169.4" cy="220.6" r="1.6" fill="#008b8b"/>
<circle cx="160.3" cy="223.7" r="1.6" fill="#008b8b"/>
<circle cx="172.9" cy="227.7" r="1.6" fill="#008b8b"/>
<circle cx="181.2" cy="226.6" r="1.6" fill="#008b8b"/>
<circle cx="184.4" cy="227.9" r="1.6" fill="#008b8b"/>
<circle cx="165.4" cy="231.5" r="1.6" fill="#008b8b"/>
<circle cx="167.4" cy="232.0" r="1.6" fill="#008b8b"/>
<circle cx="169.4" cy="231.2" r="1.6" fill="#008b8b"/>
<circle cx="176.3" cy="232.7" r="1.6" fill="#008b8b"/>
<circle cx="168.3" cy="236.5" r="1.6" fill="#008b8b"/>
<circle cx="164.9" cy="239.5" r="1.6" fill="#008b8b"/>
<circle cx="181.2" cy="242.2" r="1.6" fill="#008b8b"/>
<circle cx="183.2" cy="243.2" r="1.6" fill="#008b8b"/>
<circle cx="153.8" cy="248.2" r="1.6" fill="#008b8b"/>
<circle cx="171.3" cy="247.4" r="1.6" fill="#008b8b"/>
<text x="0" y="0" font-size="10.9" fill="#222" text-anchor="end" transform="translate(93.2,282.1) rotate(-45)">Aβ-</text>
<text x="0" y="0" font-size="10.9" fill="#222" text-anchor="end" transform="translate(173.7,282.1) rotate(-45)">Aβ+</text>
<text x="220.3" y="45" font-size="17.2" fill="#111" font-weight="normal" text-anchor="start" textLength="15.2" lengthAdjust="spacingAndGlyphs">B)</text>
<text x="288" y="46.7" font-size="18" fill="#222" font-weight="normal" text-anchor="start" textLength="92" lengthAdjust="spacingAndGlyphs">PAβ V2.0 IS</text>
<text x="316" y="63.9" font-size="12" fill="#111" font-weight="normal" text-anchor="start" textLength="43" lengthAdjust="spacingAndGlyphs">1.3E-12</text>
<path d="M298.5,77.4 V67.7 H374 V77.4" stroke="#111" stroke-width="1.5" fill="none"/>
<line x1="242" y1="55.9" x2="242" y2="271.8" stroke="#333" stroke-width="1.2"/>
<line x1="239.8" y1="56.5" x2="242" y2="56.5" stroke="#333" stroke-width="1.1"/>
<line x1="239.8" y1="110" x2="242" y2="110" stroke="#333" stroke-width="1.1"/>
<line x1="239.8" y1="163.5" x2="242" y2="163.5" stroke="#333" stroke-width="1.1"/>
<line x1="239.8" y1="194.3" x2="242" y2="194.3" stroke="#333" stroke-width="1.1"/>
<line x1="239.8" y1="218" x2="242" y2="218" stroke="#333" stroke-width="1.1"/>
<line x1="239.8" y1="271.8" x2="242" y2="271.8" stroke="#333" stroke-width="1.1"/>
<text x="238" y="60.5" font-size="10.8" fill="#111" font-weight="normal" text-anchor="end">0.45</text>
<text x="238" y="114" font-size="10.8" fill="#111" font-weight="normal" text-anchor="end">0.39</text>
<text x="238" y="167.5" font-size="10.8" fill="#111" font-weight="normal" text-anchor="end">0.33</text>
<text x="238" y="222" font-size="10.8" fill="#111" font-weight="normal" text-anchor="end">0.27</text>
<text x="238" y="275.5" font-size="10.8" fill="#111" font-weight="normal" text-anchor="end">0.21</text>
<text x="238" y="198.3" font-size="10" fill="#ff2020" font-weight="normal" text-anchor="end">0.29</text>
<line x1="241.4" y1="271.8" x2="420" y2="271.8" stroke="#333" stroke-width="1.2"/>
<line x1="290.6" y1="271.8" x2="290.6" y2="274.0" stroke="#333" stroke-width="1.1"/>
<line x1="371.3" y1="271.8" x2="371.3" y2="274.0" stroke="#333" stroke-width="1.1"/>
<line x1="290.8" y1="102.5" x2="290.8" y2="160.8" stroke="#a89c8a" stroke-width="1.1"/>
<line x1="290.8" y1="200.2" x2="290.8" y2="255" stroke="#a89c8a" stroke-width="1.1"/>
<rect x="262.6" y="160.8" width="56.39999999999998" height="39.39999999999998" fill="none" stroke="#a89c8a" stroke-width="1.1"/>
<line x1="262.6" y1="179.4" x2="319" y2="179.4" stroke="#a89c8a" stroke-width="1.4"/>
<line x1="371.55" y1="166.6" x2="371.55" y2="196.7" stroke="#2a9c9c" stroke-width="1.1"/>
<line x1="371.55" y1="223.3" x2="371.55" y2="251.3" stroke="#2a9c9c" stroke-width="1.1"/>
<rect x="343.3" y="196.7" width="56.5" height="26.600000000000023" fill="none" stroke="#2a9c9c" stroke-width="1.1"/>
<line x1="343.3" y1="211.4" x2="399.8" y2="211.4" stroke="#2a9c9c" stroke-width="2"/>
<circle cx="282.0" cy="174.0" r="1.6" fill="#8a7c6a"/>
<circle cx="282.6" cy="189.2" r="1.6" fill="#8a7c6a"/>
<circle cx="298.8" cy="132.7" r="1.6" fill="#8a7c6a"/>
<circle cx="287.7" cy="157.9" r="1.6" fill="#8a7c6a"/>
<circle cx="286.5" cy="153.9" r="1.6" fill="#8a7c6a"/>
<circle cx="285.3" cy="195.7" r="1.6" fill="#8a7c6a"/>
<circle cx="306.0" cy="198.6" r="1.6" fill="#8a7c6a"/>
<circle cx="278.3" cy="187.7" r="1.6" fill="#8a7c6a"/>
<circle cx="302.6" cy="144.8" r="1.6" fill="#8a7c6a"/>
<circle cx="281.2" cy="179.2" r="1.6" fill="#8a7c6a"/>
<circle cx="287.3" cy="177.5" r="1.6" fill="#8a7c6a"/>
<circle cx="288.8" cy="198.7" r="1.6" fill="#8a7c6a"/>
<circle cx="302.9" cy="226.6" r="1.6" fill="#8a7c6a"/>
<circle cx="274.8" cy="166.1" r="1.6" fill="#8a7c6a"/>
<circle cx="303.7" cy="218.5" r="1.6" fill="#8a7c6a"/>
<circle cx="289.7" cy="187.9" r="1.6" fill="#8a7c6a"/>
<circle cx="287.0" cy="179.6" r="1.6" fill="#8a7c6a"/>
<circle cx="304.7" cy="179.8" r="1.6" fill="#8a7c6a"/>
<circle cx="306.2" cy="202.5" r="1.6" fill="#8a7c6a"/>
<circle cx="282.3" cy="136.3" r="1.6" fill="#8a7c6a"/>
<circle cx="291.3" cy="191.2" r="1.6" fill="#8a7c6a"/>
<circle cx="296.6" cy="189.2" r="1.6" fill="#8a7c6a"/>
<circle cx="295.5" cy="217.3" r="1.6" fill="#8a7c6a"/>
<circle cx="299.3" cy="165.6" r="1.6" fill="#8a7c6a"/>
<circle cx="275.4" cy="149.5" r="1.6" fill="#8a7c6a"/>
<circle cx="299.9" cy="188.4" r="1.6" fill="#8a7c6a"/>
<circle cx="295.4" cy="186.1" r="1.6" fill="#8a7c6a"/>
<circle cx="282.4" cy="175.7" r="1.6" fill="#8a7c6a"/>
<circle cx="295.1" cy="192.3" r="1.6" fill="#8a7c6a"/>
<circle cx="276.4" cy="176.1" r="1.6" fill="#8a7c6a"/>
<circle cx="291.4" cy="168.4" r="1.6" fill="#8a7c6a"/>
<circle cx="281.5" cy="158.5" r="1.6" fill="#8a7c6a"/>
<circle cx="293.9" cy="167.7" r="1.6" fill="#8a7c6a"/>
<circle cx="289.3" cy="201.1" r="1.6" fill="#8a7c6a"/>
<circle cx="305.7" cy="181.4" r="1.6" fill="#8a7c6a"/>
<circle cx="289.8" cy="148.1" r="1.6" fill="#8a7c6a"/>
<circle cx="281.8" cy="139.1" r="1.6" fill="#8a7c6a"/>
<circle cx="297.4" cy="181.2" r="1.6" fill="#8a7c6a"/>
<circle cx="290.5" cy="178.1" r="1.6" fill="#8a7c6a"/>
<circle cx="296.4" cy="184.9" r="1.6" fill="#8a7c6a"/>
<circle cx="296.1" cy="163.1" r="1.6" fill="#8a7c6a"/>
<circle cx="304.6" cy="189.3" r="1.6" fill="#8a7c6a"/>
<circle cx="285.3" cy="181.0" r="1.6" fill="#8a7c6a"/>
<circle cx="288.0" cy="186.5" r="1.6" fill="#8a7c6a"/>
<circle cx="300.4" cy="173.2" r="1.6" fill="#8a7c6a"/>
<circle cx="298.5" cy="164.9" r="1.6" fill="#8a7c6a"/>
<circle cx="306.1" cy="163.1" r="1.6" fill="#8a7c6a"/>
<circle cx="284.4" cy="179.5" r="1.6" fill="#8a7c6a"/>
<circle cx="281.4" cy="187.7" r="1.6" fill="#8a7c6a"/>
<circle cx="299.2" cy="163.6" r="1.6" fill="#8a7c6a"/>
<circle cx="290.5" cy="162.8" r="1.6" fill="#8a7c6a"/>
<circle cx="287.9" cy="186.8" r="1.6" fill="#8a7c6a"/>
<circle cx="296.1" cy="196.4" r="1.6" fill="#8a7c6a"/>
<circle cx="287.1" cy="193.3" r="1.6" fill="#8a7c6a"/>
<circle cx="281.1" cy="175.5" r="1.6" fill="#8a7c6a"/>
<circle cx="275.8" cy="193.6" r="1.6" fill="#8a7c6a"/>
<circle cx="276.1" cy="177.8" r="1.6" fill="#8a7c6a"/>
<circle cx="303.3" cy="138.1" r="1.6" fill="#8a7c6a"/>
<circle cx="298.3" cy="213.2" r="1.6" fill="#8a7c6a"/>
<circle cx="285.0" cy="179.1" r="1.6" fill="#8a7c6a"/>
<circle cx="298.7" cy="203.1" r="1.6" fill="#8a7c6a"/>
<circle cx="286.6" cy="216.2" r="1.6" fill="#8a7c6a"/>
<circle cx="286.4" cy="187.4" r="1.6" fill="#8a7c6a"/>
<circle cx="274.2" cy="172.5" r="1.6" fill="#8a7c6a"/>
<circle cx="283.3" cy="193.3" r="1.6" fill="#8a7c6a"/>
<circle cx="278.2" cy="142.9" r="1.6" fill="#8a7c6a"/>
<circle cx="285.9" cy="196.6" r="1.6" fill="#8a7c6a"/>
<circle cx="301.2" cy="176.2" r="1.6" fill="#8a7c6a"/>
<circle cx="275.7" cy="191.6" r="1.6" fill="#8a7c6a"/>
<circle cx="289.7" cy="156.1" r="1.6" fill="#8a7c6a"/>
<circle cx="280.5" cy="140.9" r="1.6" fill="#8a7c6a"/>
<circle cx="286.1" cy="220.2" r="1.6" fill="#8a7c6a"/>
<circle cx="287.7" cy="184.9" r="1.6" fill="#8a7c6a"/>
<circle cx="300.9" cy="176.3" r="1.6" fill="#8a7c6a"/>
<circle cx="275.3" cy="180.8" r="1.6" fill="#8a7c6a"/>
<circle cx="276.2" cy="172.8" r="1.6" fill="#8a7c6a"/>
<circle cx="298.8" cy="196.9" r="1.6" fill="#8a7c6a"/>
<circle cx="303.8" cy="170.7" r="1.6" fill="#8a7c6a"/>
<circle cx="305.7" cy="169.4" r="1.6" fill="#8a7c6a"/>
<circle cx="294.5" cy="196.9" r="1.6" fill="#8a7c6a"/>
<circle cx="284.5" cy="177.0" r="1.6" fill="#8a7c6a"/>
<circle cx="283.2" cy="219.6" r="1.6" fill="#8a7c6a"/>
<circle cx="304.3" cy="222.0" r="1.6" fill="#8a7c6a"/>
<circle cx="295.0" cy="181.0" r="1.6" fill="#8a7c6a"/>
<circle cx="281.8" cy="185.2" r="1.6" fill="#8a7c6a"/>
<circle cx="289.8" cy="178.1" r="1.6" fill="#8a7c6a"/>
<circle cx="286.9" cy="163.4" r="1.6" fill="#8a7c6a"/>
<circle cx="290.4" cy="179.8" r="1.6" fill="#8a7c6a"/>
<circle cx="304.7" cy="206.5" r="1.6" fill="#8a7c6a"/>
<circle cx="298.5" cy="198.4" r="1.6" fill="#8a7c6a"/>
<circle cx="301.3" cy="221.1" r="1.6" fill="#8a7c6a"/>
<circle cx="284.9" cy="184.9" r="1.6" fill="#8a7c6a"/>
<circle cx="284.6" cy="146.2" r="1.6" fill="#8a7c6a"/>
<circle cx="276.7" cy="151.8" r="1.6" fill="#8a7c6a"/>
<circle cx="280.6" cy="213.3" r="1.6" fill="#8a7c6a"/>
<circle cx="276.2" cy="180.3" r="1.6" fill="#8a7c6a"/>
<circle cx="275.2" cy="161.2" r="1.6" fill="#8a7c6a"/>
<circle cx="306.4" cy="159.0" r="1.6" fill="#8a7c6a"/>
<circle cx="303.3" cy="172.8" r="1.6" fill="#8a7c6a"/>
<circle cx="276.9" cy="199.6" r="1.6" fill="#8a7c6a"/>
<circle cx="277.3" cy="178.5" r="1.6" fill="#8a7c6a"/>
<circle cx="288.8" cy="140.7" r="1.6" fill="#8a7c6a"/>
<circle cx="281.8" cy="180.4" r="1.6" fill="#8a7c6a"/>
<circle cx="296.3" cy="149.9" r="1.6" fill="#8a7c6a"/>
<circle cx="298.8" cy="197.4" r="1.6" fill="#8a7c6a"/>
<circle cx="278.1" cy="201.1" r="1.6" fill="#8a7c6a"/>
<circle cx="301.8" cy="149.7" r="1.6" fill="#8a7c6a"/>
<circle cx="286.4" cy="171.2" r="1.6" fill="#8a7c6a"/>
<circle cx="298.5" cy="211.1" r="1.6" fill="#8a7c6a"/>
<circle cx="282.2" cy="185.9" r="1.6" fill="#8a7c6a"/>
<circle cx="279.2" cy="197.9" r="1.6" fill="#8a7c6a"/>
<circle cx="284.9" cy="204.5" r="1.6" fill="#8a7c6a"/>
<circle cx="287.2" cy="158.1" r="1.6" fill="#8a7c6a"/>
<circle cx="281.7" cy="209.7" r="1.6" fill="#8a7c6a"/>
<circle cx="300.8" cy="178.6" r="1.6" fill="#8a7c6a"/>
<circle cx="277.5" cy="136.2" r="1.6" fill="#8a7c6a"/>
<circle cx="301.8" cy="134.3" r="1.6" fill="#8a7c6a"/>
<circle cx="304.3" cy="187.3" r="1.6" fill="#8a7c6a"/>
<circle cx="278.0" cy="200.2" r="1.6" fill="#8a7c6a"/>
<circle cx="280.4" cy="185.2" r="1.6" fill="#8a7c6a"/>
<circle cx="304.8" cy="212.6" r="1.6" fill="#8a7c6a"/>
<circle cx="286.4" cy="174.4" r="1.6" fill="#8a7c6a"/>
<circle cx="282.7" cy="198.2" r="1.6" fill="#8a7c6a"/>
<circle cx="299.8" cy="159.7" r="1.6" fill="#8a7c6a"/>
<circle cx="293.8" cy="191.1" r="1.6" fill="#8a7c6a"/>
<circle cx="294.6" cy="176.0" r="1.6" fill="#8a7c6a"/>
<circle cx="278.8" cy="184.8" r="1.6" fill="#8a7c6a"/>
<circle cx="280.8" cy="203.5" r="1.6" fill="#8a7c6a"/>
<circle cx="295.6" cy="179.0" r="1.6" fill="#8a7c6a"/>
<circle cx="280.8" cy="213.8" r="1.6" fill="#8a7c6a"/>
<circle cx="296.5" cy="202.2" r="1.6" fill="#8a7c6a"/>
<circle cx="280.2" cy="181.6" r="1.6" fill="#8a7c6a"/>
<circle cx="300.3" cy="173.6" r="1.6" fill="#8a7c6a"/>
<circle cx="292.2" cy="195.6" r="1.6" fill="#8a7c6a"/>
<circle cx="287.1" cy="190.7" r="1.6" fill="#8a7c6a"/>
<circle cx="292.3" cy="184.5" r="1.6" fill="#8a7c6a"/>
<circle cx="279.5" cy="173.0" r="1.6" fill="#8a7c6a"/>
<circle cx="297.0" cy="171.6" r="1.6" fill="#8a7c6a"/>
<circle cx="284.3" cy="162.8" r="1.6" fill="#8a7c6a"/>
<circle cx="305.6" cy="191.0" r="1.6" fill="#8a7c6a"/>
<circle cx="285.9" cy="167.7" r="1.6" fill="#8a7c6a"/>
<circle cx="287.8" cy="209.9" r="1.6" fill="#8a7c6a"/>
<circle cx="298.1" cy="169.1" r="1.6" fill="#8a7c6a"/>
<circle cx="280.8" cy="192.5" r="1.6" fill="#8a7c6a"/>
<circle cx="288.1" cy="182.0" r="1.6" fill="#8a7c6a"/>
<circle cx="303.2" cy="190.9" r="1.6" fill="#8a7c6a"/>
<circle cx="289.3" cy="156.9" r="1.6" fill="#8a7c6a"/>
<circle cx="292.3" cy="182.3" r="1.6" fill="#8a7c6a"/>
<circle cx="295.2" cy="183.7" r="1.6" fill="#8a7c6a"/>
<circle cx="294.6" cy="189.1" r="1.6" fill="#8a7c6a"/>
<circle cx="286.3" cy="174.2" r="1.6" fill="#8a7c6a"/>
<circle cx="283.4" cy="166.0" r="1.6" fill="#8a7c6a"/>
<circle cx="291.3" cy="179.6" r="1.6" fill="#8a7c6a"/>
<circle cx="290.3" cy="190.7" r="1.6" fill="#8a7c6a"/>
<circle cx="300.7" cy="174.6" r="1.6" fill="#8a7c6a"/>
<circle cx="278.3" cy="196.2" r="1.6" fill="#8a7c6a"/>
<circle cx="305.2" cy="176.6" r="1.6" fill="#8a7c6a"/>
<circle cx="275.9" cy="208.4" r="1.6" fill="#8a7c6a"/>
<circle cx="304.7" cy="175.6" r="1.6" fill="#8a7c6a"/>
<circle cx="294.6" cy="138.7" r="1.6" fill="#8a7c6a"/>
<circle cx="301.3" cy="215.1" r="1.6" fill="#8a7c6a"/>
<circle cx="281.4" cy="203.5" r="1.6" fill="#8a7c6a"/>
<circle cx="287.4" cy="217.1" r="1.6" fill="#8a7c6a"/>
<circle cx="280.1" cy="206.7" r="1.6" fill="#8a7c6a"/>
<circle cx="281.3" cy="141.4" r="1.6" fill="#8a7c6a"/>
<circle cx="286.8" cy="155.6" r="1.6" fill="#8a7c6a"/>
<circle cx="278.2" cy="197.8" r="1.6" fill="#8a7c6a"/>
<circle cx="303.7" cy="180.7" r="1.6" fill="#8a7c6a"/>
<circle cx="275.5" cy="220.2" r="1.6" fill="#8a7c6a"/>
<circle cx="275.4" cy="141.1" r="1.6" fill="#8a7c6a"/>
<circle cx="301.8" cy="163.9" r="1.6" fill="#8a7c6a"/>
<circle cx="292.3" cy="205.0" r="1.6" fill="#8a7c6a"/>
<circle cx="294.8" cy="202.8" r="1.6" fill="#8a7c6a"/>
<circle cx="293.3" cy="171.0" r="1.6" fill="#8a7c6a"/>
<circle cx="288.1" cy="204.5" r="1.6" fill="#8a7c6a"/>
<circle cx="288.6" cy="165.3" r="1.6" fill="#8a7c6a"/>
<circle cx="274.9" cy="157.1" r="1.6" fill="#8a7c6a"/>
<circle cx="281.9" cy="158.7" r="1.6" fill="#8a7c6a"/>
<circle cx="299.3" cy="160.3" r="1.6" fill="#8a7c6a"/>
<circle cx="280.0" cy="185.2" r="1.6" fill="#8a7c6a"/>
<circle cx="289.7" cy="152.8" r="1.6" fill="#8a7c6a"/>
<circle cx="288.3" cy="190.3" r="1.6" fill="#8a7c6a"/>
<circle cx="277.1" cy="188.2" r="1.6" fill="#8a7c6a"/>
<circle cx="275.4" cy="152.1" r="1.6" fill="#8a7c6a"/>
<circle cx="295.1" cy="190.7" r="1.6" fill="#8a7c6a"/>
<circle cx="299.8" cy="215.3" r="1.6" fill="#8a7c6a"/>
<circle cx="291.0" cy="200.1" r="1.6" fill="#8a7c6a"/>
<circle cx="286.6" cy="207.9" r="1.6" fill="#8a7c6a"/>
<circle cx="305.5" cy="189.9" r="1.6" fill="#8a7c6a"/>
<circle cx="307.0" cy="212.3" r="1.6" fill="#8a7c6a"/>
<circle cx="298.3" cy="217.2" r="1.6" fill="#8a7c6a"/>
<circle cx="306.5" cy="186.5" r="1.6" fill="#8a7c6a"/>
<circle cx="290.3" cy="164.9" r="1.6" fill="#8a7c6a"/>
<circle cx="279.5" cy="165.0" r="1.6" fill="#8a7c6a"/>
<circle cx="276.3" cy="193.8" r="1.6" fill="#8a7c6a"/>
<circle cx="279.3" cy="155.1" r="1.6" fill="#8a7c6a"/>
<circle cx="303.7" cy="213.8" r="1.6" fill="#8a7c6a"/>
<circle cx="278.8" cy="172.8" r="1.6" fill="#8a7c6a"/>
<circle cx="290.7" cy="225.4" r="1.6" fill="#8a7c6a"/>
<circle cx="282.8" cy="195.0" r="1.6" fill="#8a7c6a"/>
<circle cx="290.8" cy="171.8" r="1.6" fill="#8a7c6a"/>
<circle cx="280.1" cy="177.1" r="1.6" fill="#8a7c6a"/>
<circle cx="279.4" cy="186.2" r="1.6" fill="#8a7c6a"/>
<circle cx="303.6" cy="214.8" r="1.6" fill="#8a7c6a"/>
<circle cx="279.7" cy="165.3" r="1.6" fill="#8a7c6a"/>
<circle cx="291.6" cy="182.7" r="1.6" fill="#8a7c6a"/>
<circle cx="295.1" cy="167.9" r="1.6" fill="#8a7c6a"/>
<circle cx="292.4" cy="147.7" r="1.6" fill="#8a7c6a"/>
<circle cx="293.2" cy="219.2" r="1.6" fill="#8a7c6a"/>
<circle cx="306.9" cy="188.7" r="1.6" fill="#8a7c6a"/>
<circle cx="294.9" cy="172.1" r="1.6" fill="#8a7c6a"/>
<circle cx="282.8" cy="144.8" r="1.6" fill="#8a7c6a"/>
<circle cx="306.8" cy="207.6" r="1.6" fill="#8a7c6a"/>
<circle cx="299.3" cy="159.1" r="1.6" fill="#8a7c6a"/>
<circle cx="288.7" cy="169.0" r="1.6" fill="#8a7c6a"/>
<circle cx="275.7" cy="198.3" r="1.6" fill="#8a7c6a"/>
<circle cx="301.2" cy="217.0" r="1.6" fill="#8a7c6a"/>
<circle cx="306.6" cy="179.2" r="1.6" fill="#8a7c6a"/>
<circle cx="293.4" cy="215.7" r="1.6" fill="#8a7c6a"/>
<circle cx="274.2" cy="168.8" r="1.6" fill="#8a7c6a"/>
<circle cx="275.2" cy="161.5" r="1.6" fill="#8a7c6a"/>
<circle cx="288.4" cy="200.4" r="1.6" fill="#8a7c6a"/>
<circle cx="291.0" cy="207.9" r="1.6" fill="#8a7c6a"/>
<circle cx="281.6" cy="190.5" r="1.6" fill="#8a7c6a"/>
<circle cx="295.7" cy="171.9" r="1.6" fill="#8a7c6a"/>
<circle cx="285.8" cy="181.8" r="1.6" fill="#8a7c6a"/>
<circle cx="277.6" cy="180.3" r="1.6" fill="#8a7c6a"/>
<circle cx="293.4" cy="168.9" r="1.6" fill="#8a7c6a"/>
<circle cx="293.5" cy="193.9" r="1.6" fill="#8a7c6a"/>
<circle cx="289.8" cy="189.9" r="1.6" fill="#8a7c6a"/>
<circle cx="278.5" cy="213.5" r="1.6" fill="#8a7c6a"/>
<circle cx="279.0" cy="197.2" r="1.6" fill="#8a7c6a"/>
<circle cx="277.3" cy="172.8" r="1.6" fill="#8a7c6a"/>
<circle cx="299.9" cy="147.3" r="1.6" fill="#8a7c6a"/>
<circle cx="287.4" cy="141.4" r="1.6" fill="#8a7c6a"/>
<circle cx="295.4" cy="179.7" r="1.6" fill="#8a7c6a"/>
<circle cx="292.7" cy="183.8" r="1.6" fill="#8a7c6a"/>
<circle cx="288.7" cy="158.8" r="1.6" fill="#8a7c6a"/>
<circle cx="305.0" cy="209.1" r="1.6" fill="#8a7c6a"/>
<circle cx="303.9" cy="178.0" r="1.6" fill="#8a7c6a"/>
<circle cx="275.6" cy="161.2" r="1.6" fill="#8a7c6a"/>
<circle cx="281.9" cy="155.0" r="1.6" fill="#8a7c6a"/>
<circle cx="276.0" cy="175.0" r="1.6" fill="#8a7c6a"/>
<circle cx="292.3" cy="180.7" r="1.6" fill="#8a7c6a"/>
<circle cx="305.2" cy="176.1" r="1.6" fill="#8a7c6a"/>
<circle cx="294.2" cy="190.4" r="1.6" fill="#8a7c6a"/>
<circle cx="290.8" cy="193.0" r="1.6" fill="#8a7c6a"/>
<circle cx="279.9" cy="151.2" r="1.6" fill="#8a7c6a"/>
<circle cx="284.3" cy="144.4" r="1.6" fill="#8a7c6a"/>
<circle cx="303.4" cy="177.6" r="1.6" fill="#8a7c6a"/>
<circle cx="299.9" cy="187.5" r="1.6" fill="#8a7c6a"/>
<circle cx="302.0" cy="179.4" r="1.6" fill="#8a7c6a"/>
<circle cx="298.7" cy="177.2" r="1.6" fill="#8a7c6a"/>
<circle cx="289.0" cy="139.8" r="1.6" fill="#8a7c6a"/>
<circle cx="281.6" cy="188.9" r="1.6" fill="#8a7c6a"/>
<circle cx="275.4" cy="194.3" r="1.6" fill="#8a7c6a"/>
<circle cx="285.2" cy="191.2" r="1.6" fill="#8a7c6a"/>
<circle cx="302.0" cy="179.9" r="1.6" fill="#8a7c6a"/>
<circle cx="297.6" cy="141.5" r="1.6" fill="#8a7c6a"/>
<circle cx="288.5" cy="176.8" r="1.6" fill="#8a7c6a"/>
<circle cx="300.1" cy="211.6" r="1.6" fill="#8a7c6a"/>
<circle cx="295.3" cy="160.6" r="1.6" fill="#8a7c6a"/>
<circle cx="305.9" cy="177.1" r="1.6" fill="#8a7c6a"/>
<circle cx="274.6" cy="190.6" r="1.6" fill="#8a7c6a"/>
<circle cx="298.6" cy="178.8" r="1.6" fill="#8a7c6a"/>
<circle cx="305.3" cy="198.3" r="1.6" fill="#8a7c6a"/>
<circle cx="303.1" cy="179.5" r="1.6" fill="#8a7c6a"/>
<circle cx="284.9" cy="157.8" r="1.6" fill="#8a7c6a"/>
<circle cx="294.9" cy="183.7" r="1.6" fill="#8a7c6a"/>
<circle cx="306.4" cy="167.0" r="1.6" fill="#8a7c6a"/>
<circle cx="289.6" cy="145.4" r="1.6" fill="#8a7c6a"/>
<circle cx="302.4" cy="200.7" r="1.6" fill="#8a7c6a"/>
<circle cx="288.5" cy="147.3" r="1.6" fill="#8a7c6a"/>
<circle cx="284.3" cy="174.8" r="1.6" fill="#8a7c6a"/>
<circle cx="281.1" cy="147.9" r="1.6" fill="#8a7c6a"/>
<circle cx="304.2" cy="172.8" r="1.6" fill="#8a7c6a"/>
<circle cx="278.9" cy="173.0" r="1.6" fill="#8a7c6a"/>
<circle cx="304.8" cy="191.7" r="1.6" fill="#8a7c6a"/>
<circle cx="285.5" cy="182.0" r="1.6" fill="#8a7c6a"/>
<circle cx="275.5" cy="183.8" r="1.6" fill="#8a7c6a"/>
<circle cx="297.0" cy="184.7" r="1.6" fill="#8a7c6a"/>
<circle cx="298.4" cy="154.2" r="1.6" fill="#8a7c6a"/>
<circle cx="276.3" cy="151.2" r="1.6" fill="#8a7c6a"/>
<circle cx="301.1" cy="160.0" r="1.6" fill="#8a7c6a"/>
<circle cx="301.1" cy="167.2" r="1.6" fill="#8a7c6a"/>
<circle cx="302.7" cy="187.2" r="1.6" fill="#8a7c6a"/>
<circle cx="304.3" cy="174.2" r="1.6" fill="#8a7c6a"/>
<circle cx="280.9" cy="191.2" r="1.6" fill="#8a7c6a"/>
<circle cx="277.8" cy="175.9" r="1.6" fill="#8a7c6a"/>
<circle cx="300.9" cy="227.4" r="1.6" fill="#8a7c6a"/>
<circle cx="295.0" cy="190.4" r="1.6" fill="#8a7c6a"/>
<circle cx="283.6" cy="196.1" r="1.6" fill="#8a7c6a"/>
<circle cx="277.4" cy="148.5" r="1.6" fill="#8a7c6a"/>
<circle cx="280.9" cy="214.4" r="1.6" fill="#8a7c6a"/>
<circle cx="284.6" cy="204.3" r="1.6" fill="#8a7c6a"/>
<circle cx="276.6" cy="89.7" r="1.6" fill="#8a7c6a"/>
<circle cx="293.1" cy="99.4" r="1.6" fill="#8a7c6a"/>
<circle cx="293.8" cy="102.5" r="1.6" fill="#8a7c6a"/>
<circle cx="276.1" cy="115.5" r="1.6" fill="#8a7c6a"/>
<circle cx="296.7" cy="115.3" r="1.6" fill="#8a7c6a"/>
<circle cx="298.0" cy="120.0" r="1.6" fill="#8a7c6a"/>
<circle cx="278.8" cy="122.2" r="1.6" fill="#8a7c6a"/>
<circle cx="292.5" cy="123.2" r="1.6" fill="#8a7c6a"/>
<circle cx="302.0" cy="127.7" r="1.6" fill="#8a7c6a"/>
<circle cx="281.5" cy="128.7" r="1.6" fill="#8a7c6a"/>
<circle cx="291.6" cy="128.7" r="1.6" fill="#8a7c6a"/>
<circle cx="297.3" cy="261.8" r="1.6" fill="#8a7c6a"/>
<circle cx="279.2" cy="255.6" r="1.6" fill="#8a7c6a"/>
<circle cx="275.8" cy="245.3" r="1.6" fill="#8a7c6a"/>
<circle cx="279.8" cy="242.5" r="1.6" fill="#8a7c6a"/>
<circle cx="280.0" cy="241.0" r="1.6" fill="#8a7c6a"/>
<circle cx="289.7" cy="243.8" r="1.6" fill="#8a7c6a"/>
<circle cx="286.7" cy="230.9" r="1.6" fill="#8a7c6a"/>
<circle cx="303.7" cy="236.6" r="1.6" fill="#8a7c6a"/>
<circle cx="305.5" cy="233.6" r="1.6" fill="#8a7c6a"/>
<circle cx="300.6" cy="229.3" r="1.6" fill="#8a7c6a"/>
<circle cx="272.3" cy="222.0" r="1.6" fill="#8a7c6a"/>
<circle cx="290.0" cy="227.4" r="1.6" fill="#8a7c6a"/>
<circle cx="378.7" cy="166.7" r="1.6" fill="#008b8b"/>
<circle cx="355.5" cy="173.0" r="1.6" fill="#008b8b"/>
<circle cx="359.6" cy="179.6" r="1.6" fill="#008b8b"/>
<circle cx="371.9" cy="181.6" r="1.6" fill="#008b8b"/>
<circle cx="379.9" cy="181.3" r="1.6" fill="#008b8b"/>
<circle cx="385.2" cy="185.3" r="1.6" fill="#008b8b"/>
<circle cx="371.9" cy="187.4" r="1.6" fill="#008b8b"/>
<circle cx="386.2" cy="188.6" r="1.6" fill="#008b8b"/>
<circle cx="364.1" cy="189.9" r="1.6" fill="#008b8b"/>
<circle cx="357.5" cy="195.4" r="1.6" fill="#008b8b"/>
<circle cx="362.4" cy="194.4" r="1.6" fill="#008b8b"/>
<circle cx="375.3" cy="192.9" r="1.6" fill="#008b8b"/>
<circle cx="378.2" cy="196.9" r="1.6" fill="#008b8b"/>
<circle cx="379.4" cy="198.2" r="1.6" fill="#008b8b"/>
<circle cx="383.6" cy="196.9" r="1.6" fill="#008b8b"/>
<circle cx="384.1" cy="197.9" r="1.6" fill="#008b8b"/>
<circle cx="360.0" cy="202.4" r="1.6" fill="#008b8b"/>
<circle cx="359.6" cy="204.9" r="1.6" fill="#008b8b"/>
<circle cx="368.3" cy="202.4" r="1.6" fill="#008b8b"/>
<circle cx="370.4" cy="204.9" r="1.6" fill="#008b8b"/>
<circle cx="373.8" cy="204.4" r="1.6" fill="#008b8b"/>
<circle cx="363.3" cy="209.6" r="1.6" fill="#008b8b"/>
<circle cx="368.3" cy="209.9" r="1.6" fill="#008b8b"/>
<circle cx="360.0" cy="212.9" r="1.6" fill="#008b8b"/>
<circle cx="374.6" cy="212.9" r="1.6" fill="#008b8b"/>
<circle cx="375.3" cy="214.9" r="1.6" fill="#008b8b"/>
<circle cx="380.7" cy="211.5" r="1.6" fill="#008b8b"/>
<circle cx="387.1" cy="208.7" r="1.6" fill="#008b8b"/>
<circle cx="386.6" cy="214.0" r="1.6" fill="#008b8b"/>
<circle cx="386.9" cy="215.7" r="1.6" fill="#008b8b"/>
<circle cx="357.5" cy="216.9" r="1.6" fill="#008b8b"/>
<circle cx="362.8" cy="216.5" r="1.6" fill="#008b8b"/>
<circle cx="368.6" cy="217.4" r="1.6" fill="#008b8b"/>
<circle cx="374.1" cy="216.9" r="1.6" fill="#008b8b"/>
<circle cx="378.2" cy="219.0" r="1.6" fill="#008b8b"/>
<circle cx="363.3" cy="222.4" r="1.6" fill="#008b8b"/>
<circle cx="376.6" cy="222.4" r="1.6" fill="#008b8b"/>
<circle cx="355.5" cy="223.7" r="1.6" fill="#008b8b"/>
<circle cx="372.4" cy="225.7" r="1.6" fill="#008b8b"/>
<circle cx="371.6" cy="227.3" r="1.6" fill="#008b8b"/>
<circle cx="384.1" cy="224.8" r="1.6" fill="#008b8b"/>
<circle cx="369.9" cy="229.0" r="1.6" fill="#008b8b"/>
<circle cx="379.4" cy="228.7" r="1.6" fill="#008b8b"/>
<circle cx="364.6" cy="233.2" r="1.6" fill="#008b8b"/>
<circle cx="371.1" cy="232.8" r="1.6" fill="#008b8b"/>
<circle cx="376.2" cy="232.7" r="1.6" fill="#008b8b"/>
<circle cx="386.6" cy="236.8" r="1.6" fill="#008b8b"/>
<circle cx="356.6" cy="240.1" r="1.6" fill="#008b8b"/>
<circle cx="368.3" cy="251.8" r="1.6" fill="#008b8b"/>
<circle cx="372.9" cy="250.1" r="1.6" fill="#008b8b"/>
<line x1="242" y1="194.3" x2="419" y2="194.3" stroke="#ff1a1a" stroke-opacity="1" stroke-width="1.5" stroke-dasharray="5,4.5"/>
<text x="0" y="0" font-size="10.9" fill="#222" text-anchor="end" transform="translate(294.3,281.6) rotate(-45)">Aβ-</text>
<text x="0" y="0" font-size="10.9" fill="#222" text-anchor="end" transform="translate(375,281.6) rotate(-45)">Aβ+</text>
<line x1="442.0" y1="268.2721244925575" x2="676.7" y2="51.99242219215152" stroke="#c8c8c8" stroke-width="1.1"/>
<line x1="449.5" y1="261.0" x2="449.5" y2="56.599999999999966" stroke="#7a7a7a" stroke-width="1.0"/>
<line x1="449.5" y1="261.0" x2="671.7" y2="261.0" stroke="#7a7a7a" stroke-width="1.2"/>
<line x1="444.7" y1="260.9" x2="449.5" y2="260.9" stroke="#7a7a7a" stroke-width="1.1"/>
<line x1="450.0" y1="261.0" x2="450.0" y2="265.0" stroke="#7a7a7a" stroke-width="1.1"/>
<line x1="444.7" y1="209.825" x2="449.5" y2="209.825" stroke="#7a7a7a" stroke-width="1.1"/>
<line x1="505.425" y1="261.0" x2="505.425" y2="265.0" stroke="#7a7a7a" stroke-width="1.1"/>
<line x1="444.7" y1="158.74999999999997" x2="449.5" y2="158.74999999999997" stroke="#7a7a7a" stroke-width="1.1"/>
<line x1="560.85" y1="261.0" x2="560.85" y2="265.0" stroke="#7a7a7a" stroke-width="1.1"/>
<line x1="444.7" y1="107.67499999999995" x2="449.5" y2="107.67499999999995" stroke="#7a7a7a" stroke-width="1.1"/>
<line x1="616.275" y1="261.0" x2="616.275" y2="265.0" stroke="#7a7a7a" stroke-width="1.1"/>
<line x1="444.7" y1="56.599999999999966" x2="449.5" y2="56.599999999999966" stroke="#7a7a7a" stroke-width="1.1"/>
<line x1="671.7" y1="261.0" x2="671.7" y2="265.0" stroke="#7a7a7a" stroke-width="1.1"/>
<path d="M450.30,260.90 L453.00,256.30 L452.60,251.60 L453.00,248.60 L454.00,243.00 L454.00,241.00 L455.00,237.60 L455.60,234.30 L456.00,228.30 L457.00,226.00 L457.00,222.30 L458.30,222.00 L458.60,215.00 L459.60,211.30 L462.00,211.00 L462.30,207.30 L464.00,207.30 L465.00,206.00 L467.80,203.30 L473.30,203.30 L473.60,200.30 L477.30,199.70 L477.50,198.90 L478.00,195.90 L483.00,195.40 L483.50,192.10 L488.50,191.90 L488.80,184.90 L489.00,180.90 L492.00,180.90 L492.40,177.40 L497.10,177.40 L497.40,173.40 L499.40,169.90 L500.00,166.10 L505.90,166.10 L506.40,162.50 L509.40,162.00 L509.90,159.00 L511.40,155.00 L513.90,154.00 L514.40,151.00 L516.00,148.00 L518.90,144.40 L519.40,143.40 L524.90,142.90 L525.40,139.40 L527.40,138.90 L527.70,135.90 L531.40,135.40 L531.70,131.90 L542.40,131.70 L542.70,128.40 L545.00,128.10 L547.00,124.60 L553.10,124.30 L553.40,120.80 L564.10,120.50 L564.50,116.70 L573.40,116.50 L573.70,109.50 L576.30,109.20 L576.60,105.70 L583.00,105.30 L583.30,101.80 L595.30,101.60 L595.60,98.30 L605.30,98.10 L605.60,94.40 L620.80,94.40 L621.00,87.40 L622.20,86.40 L622.40,83.10 L630.60,83.10 L630.90,79.20 L638.50,79.20 L638.90,75.50 L647.90,75.50 L648.10,71.60 L655.10,71.60 L655.50,68.10 L659.30,68.10 L659.80,64.60 L661.30,64.00 L661.50,60.50 L667.50,60.30 L667.70,57.20 L671.60,56.70" stroke="#ff3b3b" stroke-width="1.35" fill="none" stroke-linejoin="miter"/>
<path d="M450.30,260.90 L452.30,258.30 L452.60,252.30 L455.60,252.30 L456.30,250.30 L457.30,248.00 L458.00,245.60 L459.30,245.30 L459.60,233.60 L462.00,233.50 L462.30,226.50 L463.60,225.60 L464.00,218.30 L464.60,207.60 L466.30,207.30 L466.60,203.30 L468.00,203.00 L468.00,200.00 L471.00,199.70 L471.30,196.70 L471.50,195.90 L473.00,193.90 L474.00,192.40 L474.50,181.90 L475.50,177.90 L476.00,169.90 L477.50,168.90 L478.00,162.50 L479.50,161.50 L479.80,154.80 L484.50,154.80 L484.80,151.50 L485.50,148.00 L486.00,144.40 L486.50,142.90 L489.00,142.70 L489.20,139.40 L495.50,139.40 L495.80,128.40 L496.50,124.40 L500.50,124.40 L500.80,117.10 L508.20,117.10 L508.50,109.50 L511.40,109.50 L511.70,102.20 L514.90,102.00 L515.10,98.20 L517.40,98.00 L517.70,94.50 L521.70,94.50 L521.90,90.80 L534.40,90.50 L534.60,86.80 L537.30,86.40 L537.60,83.20 L540.20,83.00 L540.60,79.50 L545.50,79.20 L545.70,75.40 L551.90,75.40 L552.20,72.20 L553.60,70.10 L553.90,67.80 L561.20,67.80 L561.60,64.30 L585.30,64.10 L585.70,60.50 L602.30,60.20 L602.80,56.60 L671.80,56.70" stroke="#3ec3f3" stroke-width="1.35" fill="none" stroke-linejoin="miter"/>
<text x="452.4" y="43.3" font-size="16.5" fill="#111" font-weight="normal" text-anchor="start" textLength="17.2" lengthAdjust="spacingAndGlyphs">C)</text>
<text x="0" y="0" font-size="10.3" fill="#000" font-weight="normal" text-anchor="middle" textLength="19.6" lengthAdjust="spacingAndGlyphs" transform="translate(442.4,211) rotate(-90)">0.25</text>
<text x="0" y="0" font-size="10.3" fill="#000" font-weight="normal" text-anchor="middle" textLength="19.6" lengthAdjust="spacingAndGlyphs" transform="translate(442.4,160.8) rotate(-90)">0.50</text>
<text x="0" y="0" font-size="10.3" fill="#000" font-weight="normal" text-anchor="middle" textLength="19.6" lengthAdjust="spacingAndGlyphs" transform="translate(442.4,108) rotate(-90)">0.75</text>
<text x="0" y="0" font-size="10.3" fill="#000" font-weight="normal" text-anchor="middle" textLength="19.6" lengthAdjust="spacingAndGlyphs" transform="translate(442.4,60) rotate(-90)">1.00</text>
<text x="0" y="0" font-size="11.8" fill="#111" font-weight="normal" text-anchor="middle" textLength="53.6" lengthAdjust="spacingAndGlyphs" transform="translate(429.3,161.2) rotate(-90)">Sensitivity</text>
<text x="453.5" y="276" font-size="10.3" fill="#000" font-weight="normal" text-anchor="middle">0</text>
<text x="506.625" y="277.2" font-size="10.5" fill="#000" font-weight="normal" text-anchor="middle" textLength="20.5" lengthAdjust="spacingAndGlyphs">0.25</text>
<text x="562.0500000000001" y="277.2" font-size="10.5" fill="#000" font-weight="normal" text-anchor="middle" textLength="20.5" lengthAdjust="spacingAndGlyphs">0.50</text>
<text x="617.475" y="277.2" font-size="10.5" fill="#000" font-weight="normal" text-anchor="middle" textLength="20.5" lengthAdjust="spacingAndGlyphs">0.75</text>
<text x="672.9000000000001" y="277.2" font-size="10.5" fill="#000" font-weight="normal" text-anchor="middle" textLength="20.5" lengthAdjust="spacingAndGlyphs">1.00</text>
<text x="529.4" y="290.7" font-size="12.5" fill="#000" font-weight="normal" text-anchor="start" textLength="67.6" lengthAdjust="spacingAndGlyphs">1- Specificity</text>
<line x1="492.6" y1="225" x2="506.3" y2="225" stroke="#ff7a7a" stroke-width="0.9"/>
<line x1="492.6" y1="235.5" x2="506.3" y2="235.5" stroke="#7fd6f5" stroke-width="0.9"/>
<text x="512" y="228" font-size="10.3" fill="#000" font-weight="bold" text-anchor="start" textLength="123" lengthAdjust="spacingAndGlyphs">V1.0 : AUC =0.65 (0.56-0.73)</text>
<text x="512.8" y="239.5" font-size="10.3" fill="#000" font-weight="bold" text-anchor="start" textLength="134.6" lengthAdjust="spacingAndGlyphs">V2.0 IS : AUC =0.81 (0.75-0.86)</text>
<rect x="60.2" y="312.5" width="10.8" height="8" fill="none" stroke="#8d8170" stroke-width="1.1"/>
<line x1="60.2" y1="316.5" x2="71.0" y2="316.5" stroke="#8d8170" stroke-width="1.1"/>
<line x1="65.60000000000001" y1="310.7" x2="65.60000000000001" y2="312.5" stroke="#8d8170" stroke-width="1.1"/>
<line x1="65.60000000000001" y1="320.5" x2="65.60000000000001" y2="322.3" stroke="#8d8170" stroke-width="1.1"/>
<circle cx="65.6" cy="316.5" r="2.0" fill="#8d8170"/>
<text x="77" y="321" font-size="12" fill="#111" font-weight="normal" text-anchor="start" textLength="70.7" lengthAdjust="spacingAndGlyphs">Aβ- (CL &lt;12)</text>
<rect x="156.8" y="312.5" width="11.6" height="8" fill="none" stroke="#1a1ae6" stroke-width="1.1"/>
<line x1="156.8" y1="316.5" x2="168.4" y2="316.5" stroke="#1a1ae6" stroke-width="1.1"/>
<line x1="162.60000000000002" y1="310.7" x2="162.60000000000002" y2="312.5" stroke="#1a1ae6" stroke-width="1.1"/>
<line x1="162.60000000000002" y1="320.5" x2="162.60000000000002" y2="322.3" stroke="#1a1ae6" stroke-width="1.1"/>
<circle cx="162.6" cy="316.5" r="2.0" fill="#1a1ae6"/>
<text x="174.8" y="321" font-size="12" fill="#111" font-weight="normal" text-anchor="start" textLength="114.8" lengthAdjust="spacingAndGlyphs">Transition (CL 12-24)</text>
<rect x="298.4" y="312.5" width="10.8" height="8" fill="none" stroke="#1a9c9c" stroke-width="1.1"/>
<line x1="298.4" y1="316.5" x2="309.2" y2="316.5" stroke="#1a9c9c" stroke-width="1.1"/>
<line x1="303.79999999999995" y1="310.7" x2="303.79999999999995" y2="312.5" stroke="#1a9c9c" stroke-width="1.1"/>
<line x1="303.79999999999995" y1="320.5" x2="303.79999999999995" y2="322.3" stroke="#1a9c9c" stroke-width="1.1"/>
<circle cx="303.8" cy="316.5" r="2.0" fill="#1a9c9c"/>
<text x="315.1" y="321" font-size="12" fill="#111" font-weight="normal" text-anchor="start" textLength="73.1" lengthAdjust="spacingAndGlyphs">Aβ+ (CL &gt;24)</text>
<line x1="5" y1="351.5" x2="73" y2="351.5" stroke="#f0f0f0" stroke-width="1"/>
<text x="19.3" y="348.9" font-size="16.5" fill="#111" font-weight="normal" text-anchor="start" textLength="17.5" lengthAdjust="spacingAndGlyphs">D)</text>
<text x="95" y="348.9" font-size="18" fill="#222" font-weight="normal" text-anchor="start" textLength="74" lengthAdjust="spacingAndGlyphs">PAβ V1.0</text>
<text x="0" y="0" font-size="12" fill="#111" font-weight="normal" text-anchor="middle" textLength="111" lengthAdjust="spacingAndGlyphs" transform="translate(19.3,466.5) rotate(-90)">Biomarker ratio (A.U)</text>
<line x1="47" y1="371.4" x2="47" y2="560.5" stroke="#555" stroke-width="1.2"/>
<line x1="44.8" y1="372" x2="47" y2="372" stroke="#555" stroke-width="1.1"/>
<line x1="44.8" y1="419.1" x2="47" y2="419.1" stroke="#555" stroke-width="1.1"/>
<line x1="44.8" y1="465.9" x2="47" y2="465.9" stroke="#555" stroke-width="1.1"/>
<line x1="44.8" y1="499.5" x2="47" y2="499.5" stroke="#555" stroke-width="1.1"/>
<line x1="44.8" y1="513.3" x2="47" y2="513.3" stroke="#555" stroke-width="1.1"/>
<line x1="44.8" y1="560.5" x2="47" y2="560.5" stroke="#555" stroke-width="1.1"/>
<text x="43" y="375.5" font-size="10" fill="#111" font-weight="normal" text-anchor="end">0.20</text>
<text x="43" y="422.6" font-size="10" fill="#111" font-weight="normal" text-anchor="end">0.16</text>
<text x="43" y="469.4" font-size="10" fill="#111" font-weight="normal" text-anchor="end">0.12</text>
<text x="43" y="516.8" font-size="10" fill="#111" font-weight="normal" text-anchor="end">0.08</text>
<text x="43" y="564.0" font-size="10" fill="#111" font-weight="normal" text-anchor="end">0.04</text>
<text x="43" y="503.3" font-size="10" fill="#ff2020" font-weight="normal" text-anchor="end">0.09</text>
<text x="108.6" y="381.9" font-size="12.2" fill="#111" font-weight="normal" text-anchor="start" textLength="49" lengthAdjust="spacingAndGlyphs">0. 00042</text>
<path d="M79.2,391.9 V386.5 H186.6 V391.9" stroke="#8c8c8c" stroke-width="1.05" fill="none"/>
<text x="146.4" y="400" font-size="12.2" fill="#111" font-weight="normal" text-anchor="start" textLength="27.6" lengthAdjust="spacingAndGlyphs">0. 45</text>
<path d="M132.4,410.2 V405.5 H186.6 V410.2" stroke="#8c8c8c" stroke-width="1.05" fill="none"/>
<text x="89.7" y="412.2" font-size="12.2" fill="#111" font-weight="normal" text-anchor="start" textLength="33.8" lengthAdjust="spacingAndGlyphs">0. 025</text>
<path d="M79.2,422.3 V417.6 H132.4 V422.3" stroke="#8c8c8c" stroke-width="1.05" fill="none"/>
<line x1="46.4" y1="560.5" x2="216" y2="560.5" stroke="#555" stroke-width="1.2"/>
<line x1="79.4" y1="560.5" x2="79.4" y2="562.7" stroke="#555" stroke-width="1.1"/>
<line x1="132.7" y1="560.5" x2="132.7" y2="562.7" stroke="#555" stroke-width="1.1"/>
<line x1="186.6" y1="560.5" x2="186.6" y2="562.7" stroke="#555" stroke-width="1.1"/>
<line x1="79.45" y1="459.7" x2="79.45" y2="483.5" stroke="#a89c8a" stroke-width="1.1"/>
<line x1="79.45" y1="501" x2="79.45" y2="525.3" stroke="#a89c8a" stroke-width="1.1"/>
<rect x="60.5" y="483.5" width="37.900000000000006" height="17.5" fill="none" stroke="#a89c8a" stroke-width="1.1"/>
<line x1="60.5" y1="492.4" x2="98.4" y2="492.4" stroke="#a89c8a" stroke-width="1.4"/>
<line x1="132.7" y1="485.4" x2="132.7" y2="495.9" stroke="#2020ee" stroke-width="1.1"/>
<line x1="132.7" y1="503.6" x2="132.7" y2="508.8" stroke="#2020ee" stroke-width="1.1"/>
<rect x="113.8" y="495.9" width="37.8" height="7.7000000000000455" fill="none" stroke="#2020ee" stroke-width="1.1"/>
<line x1="113.8" y1="500.1" x2="151.6" y2="500.1" stroke="#2020ee" stroke-width="1.6"/>
<line x1="186.3" y1="460.9" x2="186.3" y2="490.1" stroke="#2a9c9c" stroke-width="1.1"/>
<line x1="186.3" y1="510.6" x2="186.3" y2="525.1" stroke="#2a9c9c" stroke-width="1.1"/>
<rect x="167.3" y="490.1" width="38.0" height="20.5" fill="none" stroke="#2a9c9c" stroke-width="1.1"/>
<line x1="167.3" y1="500.6" x2="205.3" y2="500.6" stroke="#2a9c9c" stroke-width="1.6"/>
<circle cx="82.6" cy="490.5" r="1.5" fill="#8a7c6a"/>
<circle cx="70.0" cy="497.9" r="1.5" fill="#8a7c6a"/>
<circle cx="69.7" cy="484.1" r="1.5" fill="#8a7c6a"/>
<circle cx="69.9" cy="503.0" r="1.5" fill="#8a7c6a"/>
<circle cx="70.4" cy="495.4" r="1.5" fill="#8a7c6a"/>
<circle cx="71.1" cy="477.0" r="1.5" fill="#8a7c6a"/>
<circle cx="73.3" cy="501.2" r="1.5" fill="#8a7c6a"/>
<circle cx="81.0" cy="476.8" r="1.5" fill="#8a7c6a"/>
<circle cx="77.0" cy="476.3" r="1.5" fill="#8a7c6a"/>
<circle cx="74.7" cy="492.6" r="1.5" fill="#8a7c6a"/>
<circle cx="75.1" cy="496.0" r="1.5" fill="#8a7c6a"/>
<circle cx="86.2" cy="496.8" r="1.5" fill="#8a7c6a"/>
<circle cx="82.3" cy="498.3" r="1.5" fill="#8a7c6a"/>
<circle cx="76.5" cy="504.5" r="1.5" fill="#8a7c6a"/>
<circle cx="69.7" cy="489.7" r="1.5" fill="#8a7c6a"/>
<circle cx="75.3" cy="488.7" r="1.5" fill="#8a7c6a"/>
<circle cx="81.2" cy="483.8" r="1.5" fill="#8a7c6a"/>
<circle cx="85.7" cy="485.2" r="1.5" fill="#8a7c6a"/>
<circle cx="83.6" cy="495.3" r="1.5" fill="#8a7c6a"/>
<circle cx="79.8" cy="493.5" r="1.5" fill="#8a7c6a"/>
<circle cx="87.5" cy="505.5" r="1.5" fill="#8a7c6a"/>
<circle cx="71.0" cy="485.2" r="1.5" fill="#8a7c6a"/>
<circle cx="71.7" cy="478.9" r="1.5" fill="#8a7c6a"/>
<circle cx="79.1" cy="500.9" r="1.5" fill="#8a7c6a"/>
<circle cx="85.1" cy="506.8" r="1.5" fill="#8a7c6a"/>
<circle cx="80.9" cy="496.5" r="1.5" fill="#8a7c6a"/>
<circle cx="83.6" cy="498.9" r="1.5" fill="#8a7c6a"/>
<circle cx="86.7" cy="483.7" r="1.5" fill="#8a7c6a"/>
<circle cx="89.0" cy="487.9" r="1.5" fill="#8a7c6a"/>
<circle cx="69.7" cy="479.0" r="1.5" fill="#8a7c6a"/>
<circle cx="83.7" cy="495.3" r="1.5" fill="#8a7c6a"/>
<circle cx="86.3" cy="474.8" r="1.5" fill="#8a7c6a"/>
<circle cx="83.0" cy="491.0" r="1.5" fill="#8a7c6a"/>
<circle cx="71.0" cy="487.3" r="1.5" fill="#8a7c6a"/>
<circle cx="69.7" cy="494.4" r="1.5" fill="#8a7c6a"/>
<circle cx="73.8" cy="493.6" r="1.5" fill="#8a7c6a"/>
<circle cx="76.9" cy="488.0" r="1.5" fill="#8a7c6a"/>
<circle cx="78.2" cy="495.7" r="1.5" fill="#8a7c6a"/>
<circle cx="80.4" cy="490.2" r="1.5" fill="#8a7c6a"/>
<circle cx="74.5" cy="481.1" r="1.5" fill="#8a7c6a"/>
<circle cx="87.7" cy="485.2" r="1.5" fill="#8a7c6a"/>
<circle cx="89.3" cy="497.6" r="1.5" fill="#8a7c6a"/>
<circle cx="73.5" cy="496.5" r="1.5" fill="#8a7c6a"/>
<circle cx="73.5" cy="497.9" r="1.5" fill="#8a7c6a"/>
<circle cx="74.1" cy="480.3" r="1.5" fill="#8a7c6a"/>
<circle cx="80.7" cy="485.0" r="1.5" fill="#8a7c6a"/>
<circle cx="89.2" cy="497.5" r="1.5" fill="#8a7c6a"/>
<circle cx="81.9" cy="488.8" r="1.5" fill="#8a7c6a"/>
<circle cx="83.1" cy="482.2" r="1.5" fill="#8a7c6a"/>
<circle cx="85.4" cy="512.4" r="1.5" fill="#8a7c6a"/>
<circle cx="87.5" cy="499.8" r="1.5" fill="#8a7c6a"/>
<circle cx="70.7" cy="483.8" r="1.5" fill="#8a7c6a"/>
<circle cx="69.9" cy="490.7" r="1.5" fill="#8a7c6a"/>
<circle cx="73.0" cy="490.4" r="1.5" fill="#8a7c6a"/>
<circle cx="69.6" cy="497.6" r="1.5" fill="#8a7c6a"/>
<circle cx="68.4" cy="500.5" r="1.5" fill="#8a7c6a"/>
<circle cx="76.3" cy="495.6" r="1.5" fill="#8a7c6a"/>
<circle cx="71.6" cy="502.3" r="1.5" fill="#8a7c6a"/>
<circle cx="73.9" cy="483.6" r="1.5" fill="#8a7c6a"/>
<circle cx="71.1" cy="487.8" r="1.5" fill="#8a7c6a"/>
<circle cx="86.9" cy="500.5" r="1.5" fill="#8a7c6a"/>
<circle cx="78.9" cy="503.7" r="1.5" fill="#8a7c6a"/>
<circle cx="70.3" cy="492.5" r="1.5" fill="#8a7c6a"/>
<circle cx="86.5" cy="498.3" r="1.5" fill="#8a7c6a"/>
<circle cx="89.1" cy="494.1" r="1.5" fill="#8a7c6a"/>
<circle cx="79.9" cy="494.8" r="1.5" fill="#8a7c6a"/>
<circle cx="69.0" cy="500.3" r="1.5" fill="#8a7c6a"/>
<circle cx="79.9" cy="502.6" r="1.5" fill="#8a7c6a"/>
<circle cx="83.6" cy="512.0" r="1.5" fill="#8a7c6a"/>
<circle cx="85.2" cy="489.1" r="1.5" fill="#8a7c6a"/>
<circle cx="80.0" cy="497.3" r="1.5" fill="#8a7c6a"/>
<circle cx="73.3" cy="494.6" r="1.5" fill="#8a7c6a"/>
<circle cx="86.1" cy="484.6" r="1.5" fill="#8a7c6a"/>
<circle cx="86.0" cy="511.7" r="1.5" fill="#8a7c6a"/>
<circle cx="86.2" cy="491.2" r="1.5" fill="#8a7c6a"/>
<circle cx="76.2" cy="486.1" r="1.5" fill="#8a7c6a"/>
<circle cx="74.5" cy="495.2" r="1.5" fill="#8a7c6a"/>
<circle cx="74.1" cy="493.4" r="1.5" fill="#8a7c6a"/>
<circle cx="78.2" cy="484.5" r="1.5" fill="#8a7c6a"/>
<circle cx="89.2" cy="482.0" r="1.5" fill="#8a7c6a"/>
<circle cx="73.4" cy="488.5" r="1.5" fill="#8a7c6a"/>
<circle cx="88.0" cy="496.8" r="1.5" fill="#8a7c6a"/>
<circle cx="86.7" cy="505.9" r="1.5" fill="#8a7c6a"/>
<circle cx="85.8" cy="479.1" r="1.5" fill="#8a7c6a"/>
<circle cx="70.3" cy="494.8" r="1.5" fill="#8a7c6a"/>
<circle cx="85.4" cy="481.8" r="1.5" fill="#8a7c6a"/>
<circle cx="84.7" cy="475.2" r="1.5" fill="#8a7c6a"/>
<circle cx="75.7" cy="493.8" r="1.5" fill="#8a7c6a"/>
<circle cx="77.0" cy="501.0" r="1.5" fill="#8a7c6a"/>
<circle cx="84.2" cy="506.5" r="1.5" fill="#8a7c6a"/>
<circle cx="71.7" cy="495.4" r="1.5" fill="#8a7c6a"/>
<circle cx="88.1" cy="497.4" r="1.5" fill="#8a7c6a"/>
<circle cx="86.4" cy="494.9" r="1.5" fill="#8a7c6a"/>
<circle cx="80.4" cy="488.1" r="1.5" fill="#8a7c6a"/>
<circle cx="71.3" cy="485.6" r="1.5" fill="#8a7c6a"/>
<circle cx="82.6" cy="495.3" r="1.5" fill="#8a7c6a"/>
<circle cx="77.9" cy="489.3" r="1.5" fill="#8a7c6a"/>
<circle cx="73.0" cy="505.4" r="1.5" fill="#8a7c6a"/>
<circle cx="73.9" cy="480.0" r="1.5" fill="#8a7c6a"/>
<circle cx="74.1" cy="499.9" r="1.5" fill="#8a7c6a"/>
<circle cx="88.2" cy="488.6" r="1.5" fill="#8a7c6a"/>
<circle cx="76.1" cy="495.5" r="1.5" fill="#8a7c6a"/>
<circle cx="88.1" cy="480.7" r="1.5" fill="#8a7c6a"/>
<circle cx="77.6" cy="496.3" r="1.5" fill="#8a7c6a"/>
<circle cx="80.0" cy="502.8" r="1.5" fill="#8a7c6a"/>
<circle cx="72.4" cy="503.3" r="1.5" fill="#8a7c6a"/>
<circle cx="68.5" cy="494.2" r="1.5" fill="#8a7c6a"/>
<circle cx="78.7" cy="494.8" r="1.5" fill="#8a7c6a"/>
<circle cx="84.2" cy="487.4" r="1.5" fill="#8a7c6a"/>
<circle cx="79.7" cy="485.0" r="1.5" fill="#8a7c6a"/>
<circle cx="80.5" cy="490.0" r="1.5" fill="#8a7c6a"/>
<circle cx="73.8" cy="488.6" r="1.5" fill="#8a7c6a"/>
<circle cx="79.5" cy="490.2" r="1.5" fill="#8a7c6a"/>
<circle cx="80.6" cy="509.3" r="1.5" fill="#8a7c6a"/>
<circle cx="78.1" cy="494.3" r="1.5" fill="#8a7c6a"/>
<circle cx="79.6" cy="484.3" r="1.5" fill="#8a7c6a"/>
<circle cx="83.5" cy="485.6" r="1.5" fill="#8a7c6a"/>
<circle cx="88.9" cy="496.5" r="1.5" fill="#8a7c6a"/>
<circle cx="88.9" cy="486.8" r="1.5" fill="#8a7c6a"/>
<circle cx="89.0" cy="492.3" r="1.5" fill="#8a7c6a"/>
<circle cx="86.7" cy="505.3" r="1.5" fill="#8a7c6a"/>
<circle cx="78.0" cy="496.2" r="1.5" fill="#8a7c6a"/>
<circle cx="70.0" cy="496.7" r="1.5" fill="#8a7c6a"/>
<circle cx="85.5" cy="496.7" r="1.5" fill="#8a7c6a"/>
<circle cx="84.0" cy="497.4" r="1.5" fill="#8a7c6a"/>
<circle cx="82.8" cy="489.6" r="1.5" fill="#8a7c6a"/>
<circle cx="89.5" cy="505.4" r="1.5" fill="#8a7c6a"/>
<circle cx="73.2" cy="508.6" r="1.5" fill="#8a7c6a"/>
<circle cx="79.0" cy="502.2" r="1.5" fill="#8a7c6a"/>
<circle cx="77.8" cy="495.8" r="1.5" fill="#8a7c6a"/>
<circle cx="79.6" cy="488.1" r="1.5" fill="#8a7c6a"/>
<circle cx="75.3" cy="489.6" r="1.5" fill="#8a7c6a"/>
<circle cx="84.1" cy="498.4" r="1.5" fill="#8a7c6a"/>
<circle cx="78.0" cy="505.1" r="1.5" fill="#8a7c6a"/>
<circle cx="68.8" cy="494.5" r="1.5" fill="#8a7c6a"/>
<circle cx="69.8" cy="504.7" r="1.5" fill="#8a7c6a"/>
<circle cx="89.6" cy="509.8" r="1.5" fill="#8a7c6a"/>
<circle cx="70.7" cy="491.4" r="1.5" fill="#8a7c6a"/>
<circle cx="85.4" cy="492.7" r="1.5" fill="#8a7c6a"/>
<circle cx="74.3" cy="495.7" r="1.5" fill="#8a7c6a"/>
<circle cx="88.3" cy="499.9" r="1.5" fill="#8a7c6a"/>
<circle cx="88.4" cy="492.7" r="1.5" fill="#8a7c6a"/>
<circle cx="80.8" cy="498.5" r="1.5" fill="#8a7c6a"/>
<circle cx="69.7" cy="491.7" r="1.5" fill="#8a7c6a"/>
<circle cx="83.4" cy="489.0" r="1.5" fill="#8a7c6a"/>
<circle cx="88.8" cy="489.7" r="1.5" fill="#8a7c6a"/>
<circle cx="82.2" cy="494.7" r="1.5" fill="#8a7c6a"/>
<circle cx="69.9" cy="489.2" r="1.5" fill="#8a7c6a"/>
<circle cx="75.8" cy="499.9" r="1.5" fill="#8a7c6a"/>
<circle cx="80.5" cy="485.0" r="1.5" fill="#8a7c6a"/>
<circle cx="71.2" cy="499.8" r="1.5" fill="#8a7c6a"/>
<circle cx="79.9" cy="489.6" r="1.5" fill="#8a7c6a"/>
<circle cx="71.9" cy="493.3" r="1.5" fill="#8a7c6a"/>
<circle cx="75.1" cy="495.5" r="1.5" fill="#8a7c6a"/>
<circle cx="85.0" cy="500.9" r="1.5" fill="#8a7c6a"/>
<circle cx="72.3" cy="490.2" r="1.5" fill="#8a7c6a"/>
<circle cx="76.0" cy="504.0" r="1.5" fill="#8a7c6a"/>
<circle cx="68.7" cy="500.2" r="1.5" fill="#8a7c6a"/>
<circle cx="84.4" cy="493.8" r="1.5" fill="#8a7c6a"/>
<circle cx="88.8" cy="491.0" r="1.5" fill="#8a7c6a"/>
<circle cx="77.8" cy="506.9" r="1.5" fill="#8a7c6a"/>
<circle cx="79.2" cy="504.0" r="1.5" fill="#8a7c6a"/>
<circle cx="79.4" cy="497.9" r="1.5" fill="#8a7c6a"/>
<circle cx="83.4" cy="484.7" r="1.5" fill="#8a7c6a"/>
<circle cx="86.5" cy="501.7" r="1.5" fill="#8a7c6a"/>
<circle cx="76.0" cy="486.6" r="1.5" fill="#8a7c6a"/>
<circle cx="69.6" cy="485.6" r="1.5" fill="#8a7c6a"/>
<circle cx="84.5" cy="495.5" r="1.5" fill="#8a7c6a"/>
<circle cx="74.0" cy="495.7" r="1.5" fill="#8a7c6a"/>
<circle cx="86.7" cy="495.1" r="1.5" fill="#8a7c6a"/>
<circle cx="87.4" cy="496.4" r="1.5" fill="#8a7c6a"/>
<circle cx="74.8" cy="486.1" r="1.5" fill="#8a7c6a"/>
<circle cx="78.1" cy="487.6" r="1.5" fill="#8a7c6a"/>
<circle cx="74.1" cy="494.4" r="1.5" fill="#8a7c6a"/>
<circle cx="80.3" cy="486.9" r="1.5" fill="#8a7c6a"/>
<circle cx="75.2" cy="493.9" r="1.5" fill="#8a7c6a"/>
<circle cx="76.7" cy="492.7" r="1.5" fill="#8a7c6a"/>
<circle cx="79.4" cy="486.6" r="1.5" fill="#8a7c6a"/>
<circle cx="68.5" cy="492.9" r="1.5" fill="#8a7c6a"/>
<circle cx="77.1" cy="492.6" r="1.5" fill="#8a7c6a"/>
<circle cx="69.3" cy="497.1" r="1.5" fill="#8a7c6a"/>
<circle cx="73.5" cy="501.1" r="1.5" fill="#8a7c6a"/>
<circle cx="81.2" cy="494.2" r="1.5" fill="#8a7c6a"/>
<circle cx="84.0" cy="490.1" r="1.5" fill="#8a7c6a"/>
<circle cx="75.5" cy="499.9" r="1.5" fill="#8a7c6a"/>
<circle cx="89.9" cy="486.4" r="1.5" fill="#8a7c6a"/>
<circle cx="82.4" cy="502.1" r="1.5" fill="#8a7c6a"/>
<circle cx="69.4" cy="505.4" r="1.5" fill="#8a7c6a"/>
<circle cx="82.1" cy="503.3" r="1.5" fill="#8a7c6a"/>
<circle cx="79.8" cy="495.0" r="1.5" fill="#8a7c6a"/>
<circle cx="79.4" cy="488.1" r="1.5" fill="#8a7c6a"/>
<circle cx="86.4" cy="501.8" r="1.5" fill="#8a7c6a"/>
<circle cx="81.1" cy="478.1" r="1.5" fill="#8a7c6a"/>
<circle cx="83.5" cy="504.4" r="1.5" fill="#8a7c6a"/>
<circle cx="73.4" cy="483.9" r="1.5" fill="#8a7c6a"/>
<circle cx="70.7" cy="494.0" r="1.5" fill="#8a7c6a"/>
<circle cx="82.1" cy="499.3" r="1.5" fill="#8a7c6a"/>
<circle cx="82.0" cy="482.5" r="1.5" fill="#8a7c6a"/>
<circle cx="68.5" cy="488.3" r="1.5" fill="#8a7c6a"/>
<circle cx="85.8" cy="482.9" r="1.5" fill="#8a7c6a"/>
<circle cx="80.1" cy="492.9" r="1.5" fill="#8a7c6a"/>
<circle cx="73.9" cy="507.4" r="1.5" fill="#8a7c6a"/>
<circle cx="70.0" cy="499.3" r="1.5" fill="#8a7c6a"/>
<circle cx="72.9" cy="491.5" r="1.5" fill="#8a7c6a"/>
<circle cx="84.5" cy="508.4" r="1.5" fill="#8a7c6a"/>
<circle cx="76.7" cy="504.1" r="1.5" fill="#8a7c6a"/>
<circle cx="78.8" cy="491.3" r="1.5" fill="#8a7c6a"/>
<circle cx="82.4" cy="478.0" r="1.5" fill="#8a7c6a"/>
<circle cx="73.9" cy="497.8" r="1.5" fill="#8a7c6a"/>
<circle cx="84.6" cy="495.5" r="1.5" fill="#8a7c6a"/>
<circle cx="68.7" cy="488.8" r="1.5" fill="#8a7c6a"/>
<circle cx="69.7" cy="504.7" r="1.5" fill="#8a7c6a"/>
<circle cx="83.5" cy="491.3" r="1.5" fill="#8a7c6a"/>
<circle cx="78.5" cy="490.1" r="1.5" fill="#8a7c6a"/>
<circle cx="78.6" cy="504.2" r="1.5" fill="#8a7c6a"/>
<circle cx="72.7" cy="507.9" r="1.5" fill="#8a7c6a"/>
<circle cx="89.7" cy="506.8" r="1.5" fill="#8a7c6a"/>
<circle cx="78.4" cy="494.7" r="1.5" fill="#8a7c6a"/>
<circle cx="86.3" cy="492.3" r="1.5" fill="#8a7c6a"/>
<circle cx="73.0" cy="490.9" r="1.5" fill="#8a7c6a"/>
<circle cx="81.1" cy="499.2" r="1.5" fill="#8a7c6a"/>
<circle cx="71.5" cy="490.8" r="1.5" fill="#8a7c6a"/>
<circle cx="71.3" cy="489.4" r="1.5" fill="#8a7c6a"/>
<circle cx="87.7" cy="497.9" r="1.5" fill="#8a7c6a"/>
<circle cx="83.7" cy="482.6" r="1.5" fill="#8a7c6a"/>
<circle cx="69.0" cy="513.4" r="1.5" fill="#8a7c6a"/>
<circle cx="78.2" cy="504.2" r="1.5" fill="#8a7c6a"/>
<circle cx="75.0" cy="493.3" r="1.5" fill="#8a7c6a"/>
<circle cx="75.3" cy="498.6" r="1.5" fill="#8a7c6a"/>
<circle cx="86.7" cy="499.8" r="1.5" fill="#8a7c6a"/>
<circle cx="86.7" cy="509.0" r="1.5" fill="#8a7c6a"/>
<circle cx="88.0" cy="506.6" r="1.5" fill="#8a7c6a"/>
<circle cx="74.7" cy="486.2" r="1.5" fill="#8a7c6a"/>
<circle cx="90.2" cy="486.3" r="1.5" fill="#8a7c6a"/>
<circle cx="81.2" cy="499.9" r="1.5" fill="#8a7c6a"/>
<circle cx="74.4" cy="486.5" r="1.5" fill="#8a7c6a"/>
<circle cx="69.5" cy="500.8" r="1.5" fill="#8a7c6a"/>
<circle cx="88.8" cy="503.9" r="1.5" fill="#8a7c6a"/>
<circle cx="79.5" cy="493.0" r="1.5" fill="#8a7c6a"/>
<circle cx="72.5" cy="500.5" r="1.5" fill="#8a7c6a"/>
<circle cx="87.7" cy="476.2" r="1.5" fill="#8a7c6a"/>
<circle cx="86.1" cy="510.2" r="1.5" fill="#8a7c6a"/>
<circle cx="88.9" cy="478.6" r="1.5" fill="#8a7c6a"/>
<circle cx="84.4" cy="492.4" r="1.5" fill="#8a7c6a"/>
<circle cx="78.2" cy="490.0" r="1.5" fill="#8a7c6a"/>
<circle cx="74.6" cy="493.2" r="1.5" fill="#8a7c6a"/>
<circle cx="69.5" cy="479.2" r="1.5" fill="#8a7c6a"/>
<circle cx="78.7" cy="497.5" r="1.5" fill="#8a7c6a"/>
<circle cx="75.9" cy="490.8" r="1.5" fill="#8a7c6a"/>
<circle cx="74.1" cy="508.0" r="1.5" fill="#8a7c6a"/>
<circle cx="80.5" cy="488.5" r="1.5" fill="#8a7c6a"/>
<circle cx="77.0" cy="486.3" r="1.5" fill="#8a7c6a"/>
<circle cx="72.9" cy="495.8" r="1.5" fill="#8a7c6a"/>
<circle cx="88.1" cy="497.9" r="1.5" fill="#8a7c6a"/>
<circle cx="88.1" cy="486.2" r="1.5" fill="#8a7c6a"/>
<circle cx="72.6" cy="488.0" r="1.5" fill="#8a7c6a"/>
<circle cx="70.4" cy="494.6" r="1.5" fill="#8a7c6a"/>
<circle cx="83.1" cy="431.8" r="1.5" fill="#8a7c6a"/>
<circle cx="81.3" cy="436.8" r="1.5" fill="#8a7c6a"/>
<circle cx="84.3" cy="443.4" r="1.5" fill="#8a7c6a"/>
<circle cx="72.7" cy="447.5" r="1.5" fill="#8a7c6a"/>
<circle cx="87.3" cy="452.3" r="1.5" fill="#8a7c6a"/>
<circle cx="71.9" cy="457.7" r="1.5" fill="#8a7c6a"/>
<circle cx="73.8" cy="456.5" r="1.5" fill="#8a7c6a"/>
<circle cx="78.5" cy="456.0" r="1.5" fill="#8a7c6a"/>
<circle cx="76.0" cy="459.7" r="1.5" fill="#8a7c6a"/>
<circle cx="76.7" cy="459.7" r="1.5" fill="#8a7c6a"/>
<circle cx="82.6" cy="461.0" r="1.5" fill="#8a7c6a"/>
<circle cx="71.7" cy="462.5" r="1.5" fill="#8a7c6a"/>
<circle cx="75.8" cy="464.5" r="1.5" fill="#8a7c6a"/>
<circle cx="75.5" cy="465.7" r="1.5" fill="#8a7c6a"/>
<circle cx="72.2" cy="468.5" r="1.5" fill="#8a7c6a"/>
<circle cx="78.5" cy="467.5" r="1.5" fill="#8a7c6a"/>
<circle cx="88.4" cy="468.7" r="1.5" fill="#8a7c6a"/>
<circle cx="68.7" cy="470.0" r="1.5" fill="#8a7c6a"/>
<circle cx="68.9" cy="473.3" r="1.5" fill="#8a7c6a"/>
<circle cx="73.0" cy="472.5" r="1.5" fill="#8a7c6a"/>
<circle cx="79.1" cy="473.2" r="1.5" fill="#8a7c6a"/>
<circle cx="85.6" cy="473.5" r="1.5" fill="#8a7c6a"/>
<circle cx="69.4" cy="522.2" r="1.5" fill="#8a7c6a"/>
<circle cx="76.7" cy="525.3" r="1.5" fill="#8a7c6a"/>
<circle cx="88.4" cy="520.2" r="1.5" fill="#8a7c6a"/>
<circle cx="70.3" cy="532.0" r="1.5" fill="#8a7c6a"/>
<circle cx="71.4" cy="534.0" r="1.5" fill="#8a7c6a"/>
<circle cx="71.4" cy="514.5" r="1.5" fill="#8a7c6a"/>
<circle cx="81.3" cy="516.0" r="1.5" fill="#8a7c6a"/>
<circle cx="82.3" cy="518.5" r="1.5" fill="#8a7c6a"/>
<circle cx="78.5" cy="513.5" r="1.5" fill="#8a7c6a"/>
<circle cx="80.8" cy="512.5" r="1.5" fill="#8a7c6a"/>
<circle cx="136.9" cy="478.4" r="1.6" fill="#1010f0"/>
<circle cx="129.9" cy="482.6" r="1.6" fill="#1010f0"/>
<circle cx="141.1" cy="484.9" r="1.6" fill="#1010f0"/>
<circle cx="141.1" cy="488.2" r="1.6" fill="#1010f0"/>
<circle cx="139.9" cy="490.1" r="1.6" fill="#1010f0"/>
<circle cx="124.7" cy="496.6" r="1.6" fill="#1010f0"/>
<circle cx="127.8" cy="495.9" r="1.6" fill="#1010f0"/>
<circle cx="130.6" cy="497.1" r="1.6" fill="#1010f0"/>
<circle cx="134.1" cy="496.6" r="1.6" fill="#1010f0"/>
<circle cx="125.2" cy="500.6" r="1.6" fill="#1010f0"/>
<circle cx="136.4" cy="500.6" r="1.6" fill="#1010f0"/>
<circle cx="137.6" cy="502.9" r="1.6" fill="#1010f0"/>
<circle cx="129.4" cy="504.1" r="1.6" fill="#1010f0"/>
<circle cx="131.3" cy="506.0" r="1.6" fill="#1010f0"/>
<circle cx="136.4" cy="508.8" r="1.6" fill="#1010f0"/>
<circle cx="138.8" cy="509.2" r="1.6" fill="#1010f0"/>
<circle cx="141.8" cy="506.9" r="1.6" fill="#1010f0"/>
<circle cx="186.2" cy="452.2" r="1.6" fill="#008b8b"/>
<circle cx="184.3" cy="460.4" r="1.6" fill="#008b8b"/>
<circle cx="178.3" cy="464.5" r="1.6" fill="#008b8b"/>
<circle cx="181.7" cy="469.0" r="1.6" fill="#008b8b"/>
<circle cx="185.5" cy="476.5" r="1.6" fill="#008b8b"/>
<circle cx="187.4" cy="480.2" r="1.6" fill="#008b8b"/>
<circle cx="186.7" cy="482.5" r="1.6" fill="#008b8b"/>
<circle cx="191.0" cy="481.7" r="1.6" fill="#008b8b"/>
<circle cx="190.4" cy="483.7" r="1.6" fill="#008b8b"/>
<circle cx="196.3" cy="483.2" r="1.6" fill="#008b8b"/>
<circle cx="180.7" cy="486.2" r="1.6" fill="#008b8b"/>
<circle cx="190.7" cy="487.7" r="1.6" fill="#008b8b"/>
<circle cx="178.7" cy="489.7" r="1.6" fill="#008b8b"/>
<circle cx="188.5" cy="490.7" r="1.6" fill="#008b8b"/>
<circle cx="191.8" cy="492.2" r="1.6" fill="#008b8b"/>
<circle cx="195.5" cy="490.3" r="1.6" fill="#008b8b"/>
<circle cx="196.7" cy="490.0" r="1.6" fill="#008b8b"/>
<circle cx="175.7" cy="494.5" r="1.6" fill="#008b8b"/>
<circle cx="187.3" cy="495.2" r="1.6" fill="#008b8b"/>
<circle cx="196.0" cy="496.0" r="1.6" fill="#008b8b"/>
<circle cx="189.7" cy="497.5" r="1.6" fill="#008b8b"/>
<circle cx="178.0" cy="498.2" r="1.6" fill="#008b8b"/>
<circle cx="179.5" cy="497.7" r="1.6" fill="#008b8b"/>
<circle cx="181.7" cy="499.2" r="1.6" fill="#008b8b"/>
<circle cx="184.0" cy="499.2" r="1.6" fill="#008b8b"/>
<circle cx="191.8" cy="499.7" r="1.6" fill="#008b8b"/>
<circle cx="177.2" cy="501.6" r="1.6" fill="#008b8b"/>
<circle cx="178.7" cy="502.7" r="1.6" fill="#008b8b"/>
<circle cx="193.0" cy="502.0" r="1.6" fill="#008b8b"/>
<circle cx="194.5" cy="501.6" r="1.6" fill="#008b8b"/>
<circle cx="175.7" cy="505.0" r="1.6" fill="#008b8b"/>
<circle cx="176.5" cy="506.7" r="1.6" fill="#008b8b"/>
<circle cx="184.4" cy="504.6" r="1.6" fill="#008b8b"/>
<circle cx="189.2" cy="506.1" r="1.6" fill="#008b8b"/>
<circle cx="192.2" cy="504.2" r="1.6" fill="#008b8b"/>
<circle cx="181.0" cy="510.9" r="1.6" fill="#008b8b"/>
<circle cx="186.2" cy="509.4" r="1.6" fill="#008b8b"/>
<circle cx="194.8" cy="513.2" r="1.6" fill="#008b8b"/>
<circle cx="196.3" cy="513.9" r="1.6" fill="#008b8b"/>
<circle cx="189.2" cy="513.9" r="1.6" fill="#008b8b"/>
<circle cx="184.7" cy="516.2" r="1.6" fill="#008b8b"/>
<circle cx="186.2" cy="515.7" r="1.6" fill="#008b8b"/>
<circle cx="191.2" cy="516.9" r="1.6" fill="#008b8b"/>
<circle cx="185.2" cy="518.7" r="1.6" fill="#008b8b"/>
<circle cx="184.0" cy="520.7" r="1.6" fill="#008b8b"/>
<circle cx="194.8" cy="522.2" r="1.6" fill="#008b8b"/>
<circle cx="196.0" cy="522.9" r="1.6" fill="#008b8b"/>
<circle cx="176.2" cy="525.9" r="1.6" fill="#008b8b"/>
<circle cx="187.7" cy="525.5" r="1.6" fill="#008b8b"/>
<line x1="47" y1="499.5" x2="217" y2="499.5" stroke="#f01c1c" stroke-opacity="1" stroke-width="1.5" stroke-dasharray="5,4.5"/>
<text x="0" y="0" font-size="10.9" fill="#222" text-anchor="end" transform="translate(84.5,569.5) rotate(-45)">Aβ-</text>
<text x="0" y="0" font-size="10.9" fill="#222" text-anchor="end" transform="translate(138,569.5) rotate(-45)">Transition</text>
<text x="0" y="0" font-size="10.9" fill="#222" text-anchor="end" transform="translate(192,569.5) rotate(-45)">Aβ+</text>
<text x="228" y="348" font-size="16" fill="#111" font-weight="normal" text-anchor="start" textLength="14.7" lengthAdjust="spacingAndGlyphs">E)</text>
<text x="284.9" y="349.1" font-size="18" fill="#222" font-weight="normal" text-anchor="start" textLength="92.9" lengthAdjust="spacingAndGlyphs">PAβ V2.0 IS</text>
<line x1="246.4" y1="370.2" x2="246.4" y2="559.4" stroke="#333" stroke-width="1.2"/>
<line x1="244.20000000000002" y1="370.8" x2="246.4" y2="370.8" stroke="#333" stroke-width="1.1"/>
<line x1="244.20000000000002" y1="408.3" x2="246.4" y2="408.3" stroke="#333" stroke-width="1.1"/>
<line x1="244.20000000000002" y1="445.7" x2="246.4" y2="445.7" stroke="#333" stroke-width="1.1"/>
<line x1="244.20000000000002" y1="483.3" x2="246.4" y2="483.3" stroke="#333" stroke-width="1.1"/>
<line x1="244.20000000000002" y1="504" x2="246.4" y2="504" stroke="#333" stroke-width="1.1"/>
<line x1="244.20000000000002" y1="521.7" x2="246.4" y2="521.7" stroke="#333" stroke-width="1.1"/>
<line x1="244.20000000000002" y1="559.4" x2="246.4" y2="559.4" stroke="#333" stroke-width="1.1"/>
<text x="242.7" y="374.40000000000003" font-size="10.6" fill="#111" font-weight="normal" text-anchor="end">0.51</text>
<text x="242.7" y="411.90000000000003" font-size="10.6" fill="#111" font-weight="normal" text-anchor="end">0.45</text>
<text x="242.7" y="449.3" font-size="10.6" fill="#111" font-weight="normal" text-anchor="end">0.39</text>
<text x="242.7" y="486.90000000000003" font-size="10.6" fill="#111" font-weight="normal" text-anchor="end">0.33</text>
<text x="242.7" y="525.3000000000001" font-size="10.6" fill="#111" font-weight="normal" text-anchor="end">0.27</text>
<text x="242.7" y="562.9" font-size="10.6" fill="#111" font-weight="normal" text-anchor="end">0.20</text>
<text x="242.7" y="508" font-size="10.6" fill="#ff2020" font-weight="normal" text-anchor="end">0.29</text>
<text x="312.6" y="386.1" font-size="12.2" fill="#111" font-weight="normal" text-anchor="start" textLength="44.4" lengthAdjust="spacingAndGlyphs">6.1E-13</text>
<path d="M278.5,397 V391.7 H385.3 V397" stroke="#8c8c8c" stroke-width="1.05" fill="none"/>
<text x="340.4" y="404.9" font-size="12.2" fill="#111" font-weight="normal" text-anchor="start" textLength="33.3" lengthAdjust="spacingAndGlyphs">0.026</text>
<path d="M331.5,412 V406.8 H385.3 V412" stroke="#8c8c8c" stroke-width="1.05" fill="none"/>
<text x="286.3" y="410.6" font-size="12.2" fill="#111" font-weight="normal" text-anchor="start" textLength="35.2" lengthAdjust="spacingAndGlyphs">0. 002</text>
<path d="M278.5,420.7 V415.8 H331.5 V420.7" stroke="#8c8c8c" stroke-width="1.05" fill="none"/>
<line x1="245.8" y1="559.4" x2="416" y2="559.4" stroke="#333" stroke-width="1.2"/>
<line x1="278.6" y1="559.4" x2="278.6" y2="561.6" stroke="#333" stroke-width="1.1"/>
<line x1="332" y1="559.4" x2="332" y2="561.6" stroke="#333" stroke-width="1.1"/>
<line x1="385.8" y1="559.4" x2="385.8" y2="561.6" stroke="#333" stroke-width="1.1"/>
<line x1="278.5" y1="450.2" x2="278.5" y2="479.9" stroke="#a89c8a" stroke-width="1.1"/>
<line x1="278.5" y1="505.4" x2="278.5" y2="538.2" stroke="#a89c8a" stroke-width="1.1"/>
<rect x="259.7" y="479.9" width="37.60000000000002" height="25.5" fill="none" stroke="#a89c8a" stroke-width="1.1"/>
<line x1="259.7" y1="492.8" x2="297.3" y2="492.8" stroke="#a89c8a" stroke-width="1.4"/>
<line x1="332.05" y1="479.9" x2="332.05" y2="496.2" stroke="#2020ee" stroke-width="1.1"/>
<line x1="332.05" y1="515.1" x2="332.05" y2="530.4" stroke="#2020ee" stroke-width="1.1"/>
<rect x="313" y="496.2" width="38.10000000000002" height="18.900000000000034" fill="none" stroke="#2020ee" stroke-width="1.1"/>
<line x1="313" y1="506.7" x2="351.1" y2="506.7" stroke="#2020ee" stroke-width="1.6"/>
<line x1="385.65" y1="485.2" x2="385.65" y2="505.4" stroke="#2a9c9c" stroke-width="1.1"/>
<line x1="385.65" y1="524.3" x2="385.65" y2="543.5" stroke="#2a9c9c" stroke-width="1.1"/>
<rect x="366.6" y="505.4" width="38.099999999999966" height="18.899999999999977" fill="none" stroke="#2a9c9c" stroke-width="1.1"/>
<line x1="366.6" y1="516.4" x2="404.7" y2="516.4" stroke="#2a9c9c" stroke-width="1.6"/>
<circle cx="272.6" cy="489.3" r="1.5" fill="#8a7c6a"/>
<circle cx="273.0" cy="499.1" r="1.5" fill="#8a7c6a"/>
<circle cx="284.4" cy="462.4" r="1.5" fill="#8a7c6a"/>
<circle cx="275.8" cy="476.2" r="1.5" fill="#8a7c6a"/>
<circle cx="274.9" cy="503.4" r="1.5" fill="#8a7c6a"/>
<circle cx="289.4" cy="505.3" r="1.5" fill="#8a7c6a"/>
<circle cx="270.0" cy="498.2" r="1.5" fill="#8a7c6a"/>
<circle cx="287.0" cy="470.3" r="1.5" fill="#8a7c6a"/>
<circle cx="272.0" cy="492.7" r="1.5" fill="#8a7c6a"/>
<circle cx="277.3" cy="505.4" r="1.5" fill="#8a7c6a"/>
<circle cx="287.2" cy="523.5" r="1.5" fill="#8a7c6a"/>
<circle cx="267.6" cy="484.2" r="1.5" fill="#8a7c6a"/>
<circle cx="287.7" cy="518.2" r="1.5" fill="#8a7c6a"/>
<circle cx="278.0" cy="498.3" r="1.5" fill="#8a7c6a"/>
<circle cx="276.1" cy="492.9" r="1.5" fill="#8a7c6a"/>
<circle cx="289.5" cy="507.8" r="1.5" fill="#8a7c6a"/>
<circle cx="272.8" cy="464.8" r="1.5" fill="#8a7c6a"/>
<circle cx="279.1" cy="500.5" r="1.5" fill="#8a7c6a"/>
<circle cx="282.8" cy="499.1" r="1.5" fill="#8a7c6a"/>
<circle cx="282.0" cy="517.4" r="1.5" fill="#8a7c6a"/>
<circle cx="284.7" cy="483.8" r="1.5" fill="#8a7c6a"/>
<circle cx="285.1" cy="498.6" r="1.5" fill="#8a7c6a"/>
<circle cx="282.0" cy="497.2" r="1.5" fill="#8a7c6a"/>
<circle cx="272.9" cy="490.4" r="1.5" fill="#8a7c6a"/>
<circle cx="281.7" cy="501.2" r="1.5" fill="#8a7c6a"/>
<circle cx="268.7" cy="490.7" r="1.5" fill="#8a7c6a"/>
<circle cx="279.2" cy="485.7" r="1.5" fill="#8a7c6a"/>
<circle cx="280.9" cy="485.2" r="1.5" fill="#8a7c6a"/>
<circle cx="277.7" cy="506.9" r="1.5" fill="#8a7c6a"/>
<circle cx="289.2" cy="494.1" r="1.5" fill="#8a7c6a"/>
<circle cx="278.0" cy="472.5" r="1.5" fill="#8a7c6a"/>
<circle cx="272.5" cy="466.6" r="1.5" fill="#8a7c6a"/>
<circle cx="283.3" cy="494.0" r="1.5" fill="#8a7c6a"/>
<circle cx="282.6" cy="496.4" r="1.5" fill="#8a7c6a"/>
<circle cx="282.5" cy="482.2" r="1.5" fill="#8a7c6a"/>
<circle cx="288.4" cy="499.2" r="1.5" fill="#8a7c6a"/>
<circle cx="274.9" cy="493.8" r="1.5" fill="#8a7c6a"/>
<circle cx="276.8" cy="497.4" r="1.5" fill="#8a7c6a"/>
<circle cx="285.5" cy="488.8" r="1.5" fill="#8a7c6a"/>
<circle cx="289.5" cy="482.2" r="1.5" fill="#8a7c6a"/>
<circle cx="274.3" cy="492.9" r="1.5" fill="#8a7c6a"/>
<circle cx="272.2" cy="498.2" r="1.5" fill="#8a7c6a"/>
<circle cx="284.6" cy="482.5" r="1.5" fill="#8a7c6a"/>
<circle cx="278.5" cy="482.0" r="1.5" fill="#8a7c6a"/>
<circle cx="276.7" cy="497.6" r="1.5" fill="#8a7c6a"/>
<circle cx="276.1" cy="501.9" r="1.5" fill="#8a7c6a"/>
<circle cx="272.0" cy="490.3" r="1.5" fill="#8a7c6a"/>
<circle cx="268.2" cy="502.1" r="1.5" fill="#8a7c6a"/>
<circle cx="268.4" cy="491.7" r="1.5" fill="#8a7c6a"/>
<circle cx="287.5" cy="466.0" r="1.5" fill="#8a7c6a"/>
<circle cx="284.0" cy="514.8" r="1.5" fill="#8a7c6a"/>
<circle cx="284.3" cy="508.2" r="1.5" fill="#8a7c6a"/>
<circle cx="275.8" cy="516.7" r="1.5" fill="#8a7c6a"/>
<circle cx="275.7" cy="498.0" r="1.5" fill="#8a7c6a"/>
<circle cx="267.1" cy="488.3" r="1.5" fill="#8a7c6a"/>
<circle cx="273.5" cy="501.8" r="1.5" fill="#8a7c6a"/>
<circle cx="269.9" cy="469.1" r="1.5" fill="#8a7c6a"/>
<circle cx="286.0" cy="490.7" r="1.5" fill="#8a7c6a"/>
<circle cx="268.2" cy="500.8" r="1.5" fill="#8a7c6a"/>
<circle cx="278.0" cy="477.6" r="1.5" fill="#8a7c6a"/>
<circle cx="271.5" cy="467.8" r="1.5" fill="#8a7c6a"/>
<circle cx="275.5" cy="519.4" r="1.5" fill="#8a7c6a"/>
<circle cx="276.5" cy="496.4" r="1.5" fill="#8a7c6a"/>
<circle cx="267.9" cy="493.7" r="1.5" fill="#8a7c6a"/>
<circle cx="268.5" cy="488.5" r="1.5" fill="#8a7c6a"/>
<circle cx="284.3" cy="504.2" r="1.5" fill="#8a7c6a"/>
<circle cx="287.8" cy="487.2" r="1.5" fill="#8a7c6a"/>
<circle cx="289.2" cy="486.3" r="1.5" fill="#8a7c6a"/>
<circle cx="281.3" cy="504.2" r="1.5" fill="#8a7c6a"/>
<circle cx="273.4" cy="518.9" r="1.5" fill="#8a7c6a"/>
<circle cx="288.2" cy="520.5" r="1.5" fill="#8a7c6a"/>
<circle cx="281.7" cy="493.8" r="1.5" fill="#8a7c6a"/>
<circle cx="272.5" cy="496.6" r="1.5" fill="#8a7c6a"/>
<circle cx="278.0" cy="491.9" r="1.5" fill="#8a7c6a"/>
<circle cx="276.0" cy="482.4" r="1.5" fill="#8a7c6a"/>
<circle cx="288.5" cy="510.4" r="1.5" fill="#8a7c6a"/>
<circle cx="284.1" cy="505.2" r="1.5" fill="#8a7c6a"/>
<circle cx="286.1" cy="519.9" r="1.5" fill="#8a7c6a"/>
<circle cx="274.6" cy="496.4" r="1.5" fill="#8a7c6a"/>
<circle cx="274.4" cy="471.2" r="1.5" fill="#8a7c6a"/>
<circle cx="268.9" cy="474.8" r="1.5" fill="#8a7c6a"/>
<circle cx="268.5" cy="493.4" r="1.5" fill="#8a7c6a"/>
<circle cx="267.8" cy="480.9" r="1.5" fill="#8a7c6a"/>
<circle cx="289.7" cy="479.5" r="1.5" fill="#8a7c6a"/>
<circle cx="287.5" cy="488.5" r="1.5" fill="#8a7c6a"/>
<circle cx="269.0" cy="505.9" r="1.5" fill="#8a7c6a"/>
<circle cx="269.3" cy="492.2" r="1.5" fill="#8a7c6a"/>
<circle cx="272.5" cy="493.4" r="1.5" fill="#8a7c6a"/>
<circle cx="282.6" cy="473.6" r="1.5" fill="#8a7c6a"/>
<circle cx="284.3" cy="504.5" r="1.5" fill="#8a7c6a"/>
<circle cx="269.8" cy="506.9" r="1.5" fill="#8a7c6a"/>
<circle cx="286.5" cy="473.5" r="1.5" fill="#8a7c6a"/>
<circle cx="275.7" cy="487.5" r="1.5" fill="#8a7c6a"/>
<circle cx="272.7" cy="497.0" r="1.5" fill="#8a7c6a"/>
<circle cx="270.6" cy="504.8" r="1.5" fill="#8a7c6a"/>
<circle cx="274.6" cy="509.1" r="1.5" fill="#8a7c6a"/>
<circle cx="276.2" cy="479.0" r="1.5" fill="#8a7c6a"/>
<circle cx="272.4" cy="512.5" r="1.5" fill="#8a7c6a"/>
<circle cx="285.7" cy="492.3" r="1.5" fill="#8a7c6a"/>
<circle cx="286.5" cy="463.5" r="1.5" fill="#8a7c6a"/>
<circle cx="288.2" cy="497.9" r="1.5" fill="#8a7c6a"/>
<circle cx="269.8" cy="506.3" r="1.5" fill="#8a7c6a"/>
<circle cx="271.4" cy="496.6" r="1.5" fill="#8a7c6a"/>
<circle cx="288.5" cy="514.4" r="1.5" fill="#8a7c6a"/>
<circle cx="275.6" cy="489.6" r="1.5" fill="#8a7c6a"/>
<circle cx="285.0" cy="480.0" r="1.5" fill="#8a7c6a"/>
<circle cx="280.8" cy="500.4" r="1.5" fill="#8a7c6a"/>
<circle cx="281.4" cy="490.6" r="1.5" fill="#8a7c6a"/>
<circle cx="270.3" cy="496.3" r="1.5" fill="#8a7c6a"/>
<circle cx="271.8" cy="508.5" r="1.5" fill="#8a7c6a"/>
<circle cx="282.1" cy="492.5" r="1.5" fill="#8a7c6a"/>
<circle cx="282.7" cy="507.6" r="1.5" fill="#8a7c6a"/>
<circle cx="271.3" cy="494.2" r="1.5" fill="#8a7c6a"/>
<circle cx="285.4" cy="489.0" r="1.5" fill="#8a7c6a"/>
<circle cx="279.7" cy="503.3" r="1.5" fill="#8a7c6a"/>
<circle cx="276.2" cy="500.1" r="1.5" fill="#8a7c6a"/>
<circle cx="279.8" cy="496.1" r="1.5" fill="#8a7c6a"/>
<circle cx="283.1" cy="487.7" r="1.5" fill="#8a7c6a"/>
<circle cx="274.2" cy="482.0" r="1.5" fill="#8a7c6a"/>
<circle cx="289.1" cy="500.3" r="1.5" fill="#8a7c6a"/>
<circle cx="275.3" cy="485.2" r="1.5" fill="#8a7c6a"/>
<circle cx="276.7" cy="512.6" r="1.5" fill="#8a7c6a"/>
<circle cx="283.9" cy="486.1" r="1.5" fill="#8a7c6a"/>
<circle cx="276.8" cy="494.5" r="1.5" fill="#8a7c6a"/>
<circle cx="287.4" cy="500.3" r="1.5" fill="#8a7c6a"/>
<circle cx="277.7" cy="478.2" r="1.5" fill="#8a7c6a"/>
<circle cx="279.8" cy="494.7" r="1.5" fill="#8a7c6a"/>
<circle cx="281.8" cy="495.6" r="1.5" fill="#8a7c6a"/>
<circle cx="281.4" cy="499.1" r="1.5" fill="#8a7c6a"/>
<circle cx="273.6" cy="484.1" r="1.5" fill="#8a7c6a"/>
<circle cx="279.1" cy="492.9" r="1.5" fill="#8a7c6a"/>
<circle cx="278.4" cy="500.2" r="1.5" fill="#8a7c6a"/>
<circle cx="285.6" cy="489.7" r="1.5" fill="#8a7c6a"/>
<circle cx="270.0" cy="503.7" r="1.5" fill="#8a7c6a"/>
<circle cx="288.8" cy="491.0" r="1.5" fill="#8a7c6a"/>
<circle cx="288.4" cy="490.3" r="1.5" fill="#8a7c6a"/>
<circle cx="281.4" cy="466.4" r="1.5" fill="#8a7c6a"/>
<circle cx="286.1" cy="516.0" r="1.5" fill="#8a7c6a"/>
<circle cx="272.2" cy="508.4" r="1.5" fill="#8a7c6a"/>
<circle cx="276.4" cy="517.3" r="1.5" fill="#8a7c6a"/>
<circle cx="271.3" cy="510.6" r="1.5" fill="#8a7c6a"/>
<circle cx="275.9" cy="477.3" r="1.5" fill="#8a7c6a"/>
<circle cx="269.9" cy="504.8" r="1.5" fill="#8a7c6a"/>
<circle cx="287.8" cy="493.7" r="1.5" fill="#8a7c6a"/>
<circle cx="268.0" cy="519.3" r="1.5" fill="#8a7c6a"/>
<circle cx="267.9" cy="467.9" r="1.5" fill="#8a7c6a"/>
<circle cx="286.4" cy="482.7" r="1.5" fill="#8a7c6a"/>
<circle cx="281.5" cy="508.0" r="1.5" fill="#8a7c6a"/>
<circle cx="280.5" cy="487.3" r="1.5" fill="#8a7c6a"/>
<circle cx="276.9" cy="509.1" r="1.5" fill="#8a7c6a"/>
<circle cx="277.2" cy="483.6" r="1.5" fill="#8a7c6a"/>
<circle cx="267.6" cy="478.3" r="1.5" fill="#8a7c6a"/>
<circle cx="272.5" cy="479.4" r="1.5" fill="#8a7c6a"/>
<circle cx="271.2" cy="496.6" r="1.5" fill="#8a7c6a"/>
<circle cx="278.0" cy="475.5" r="1.5" fill="#8a7c6a"/>
<circle cx="277.0" cy="499.9" r="1.5" fill="#8a7c6a"/>
<circle cx="269.2" cy="498.5" r="1.5" fill="#8a7c6a"/>
<circle cx="268.0" cy="475.1" r="1.5" fill="#8a7c6a"/>
<circle cx="281.8" cy="500.1" r="1.5" fill="#8a7c6a"/>
<circle cx="278.9" cy="506.2" r="1.5" fill="#8a7c6a"/>
<circle cx="275.8" cy="511.3" r="1.5" fill="#8a7c6a"/>
<circle cx="289.0" cy="499.6" r="1.5" fill="#8a7c6a"/>
<circle cx="290.1" cy="514.2" r="1.5" fill="#8a7c6a"/>
<circle cx="284.0" cy="517.4" r="1.5" fill="#8a7c6a"/>
<circle cx="289.7" cy="497.4" r="1.5" fill="#8a7c6a"/>
<circle cx="270.9" cy="483.5" r="1.5" fill="#8a7c6a"/>
<circle cx="268.6" cy="502.2" r="1.5" fill="#8a7c6a"/>
<circle cx="270.7" cy="477.0" r="1.5" fill="#8a7c6a"/>
<circle cx="287.8" cy="515.2" r="1.5" fill="#8a7c6a"/>
<circle cx="270.4" cy="488.5" r="1.5" fill="#8a7c6a"/>
<circle cx="278.7" cy="522.7" r="1.5" fill="#8a7c6a"/>
<circle cx="278.7" cy="487.8" r="1.5" fill="#8a7c6a"/>
<circle cx="271.3" cy="491.3" r="1.5" fill="#8a7c6a"/>
<circle cx="270.8" cy="497.2" r="1.5" fill="#8a7c6a"/>
<circle cx="287.7" cy="515.8" r="1.5" fill="#8a7c6a"/>
<circle cx="270.9" cy="483.7" r="1.5" fill="#8a7c6a"/>
<circle cx="279.3" cy="494.9" r="1.5" fill="#8a7c6a"/>
<circle cx="279.9" cy="472.2" r="1.5" fill="#8a7c6a"/>
<circle cx="280.4" cy="518.7" r="1.5" fill="#8a7c6a"/>
<circle cx="290.0" cy="498.8" r="1.5" fill="#8a7c6a"/>
<circle cx="281.6" cy="488.1" r="1.5" fill="#8a7c6a"/>
<circle cx="273.2" cy="470.3" r="1.5" fill="#8a7c6a"/>
<circle cx="289.9" cy="511.1" r="1.5" fill="#8a7c6a"/>
<circle cx="277.3" cy="486.0" r="1.5" fill="#8a7c6a"/>
<circle cx="268.2" cy="505.1" r="1.5" fill="#8a7c6a"/>
<circle cx="286.0" cy="517.2" r="1.5" fill="#8a7c6a"/>
<circle cx="289.8" cy="492.7" r="1.5" fill="#8a7c6a"/>
<circle cx="280.6" cy="516.4" r="1.5" fill="#8a7c6a"/>
<circle cx="267.1" cy="485.9" r="1.5" fill="#8a7c6a"/>
<circle cx="277.0" cy="506.5" r="1.5" fill="#8a7c6a"/>
<circle cx="278.9" cy="511.3" r="1.5" fill="#8a7c6a"/>
<circle cx="272.3" cy="500.0" r="1.5" fill="#8a7c6a"/>
<circle cx="282.1" cy="487.9" r="1.5" fill="#8a7c6a"/>
<circle cx="275.2" cy="494.4" r="1.5" fill="#8a7c6a"/>
<circle cx="269.5" cy="493.4" r="1.5" fill="#8a7c6a"/>
<circle cx="280.7" cy="502.2" r="1.5" fill="#8a7c6a"/>
<circle cx="278.0" cy="499.6" r="1.5" fill="#8a7c6a"/>
<circle cx="270.2" cy="515.0" r="1.5" fill="#8a7c6a"/>
<circle cx="270.5" cy="504.4" r="1.5" fill="#8a7c6a"/>
<circle cx="269.3" cy="488.5" r="1.5" fill="#8a7c6a"/>
<circle cx="285.1" cy="471.9" r="1.5" fill="#8a7c6a"/>
<circle cx="281.9" cy="493.0" r="1.5" fill="#8a7c6a"/>
<circle cx="280.0" cy="495.7" r="1.5" fill="#8a7c6a"/>
<circle cx="277.3" cy="479.4" r="1.5" fill="#8a7c6a"/>
<circle cx="288.7" cy="512.1" r="1.5" fill="#8a7c6a"/>
<circle cx="287.9" cy="491.9" r="1.5" fill="#8a7c6a"/>
<circle cx="268.1" cy="481.0" r="1.5" fill="#8a7c6a"/>
<circle cx="268.4" cy="489.9" r="1.5" fill="#8a7c6a"/>
<circle cx="279.8" cy="493.7" r="1.5" fill="#8a7c6a"/>
<circle cx="288.8" cy="490.7" r="1.5" fill="#8a7c6a"/>
<circle cx="281.1" cy="500.0" r="1.5" fill="#8a7c6a"/>
<circle cx="278.8" cy="501.6" r="1.5" fill="#8a7c6a"/>
<circle cx="271.1" cy="474.4" r="1.5" fill="#8a7c6a"/>
<circle cx="287.6" cy="491.6" r="1.5" fill="#8a7c6a"/>
<circle cx="285.1" cy="498.1" r="1.5" fill="#8a7c6a"/>
<circle cx="286.6" cy="492.8" r="1.5" fill="#8a7c6a"/>
<circle cx="284.3" cy="491.4" r="1.5" fill="#8a7c6a"/>
<circle cx="277.5" cy="467.1" r="1.5" fill="#8a7c6a"/>
<circle cx="272.3" cy="499.0" r="1.5" fill="#8a7c6a"/>
<circle cx="274.8" cy="500.4" r="1.5" fill="#8a7c6a"/>
<circle cx="286.6" cy="493.1" r="1.5" fill="#8a7c6a"/>
<circle cx="283.5" cy="468.1" r="1.5" fill="#8a7c6a"/>
<circle cx="277.1" cy="491.1" r="1.5" fill="#8a7c6a"/>
<circle cx="285.3" cy="513.7" r="1.5" fill="#8a7c6a"/>
<circle cx="281.9" cy="480.6" r="1.5" fill="#8a7c6a"/>
<circle cx="267.4" cy="500.1" r="1.5" fill="#8a7c6a"/>
<circle cx="284.2" cy="492.4" r="1.5" fill="#8a7c6a"/>
<circle cx="288.9" cy="505.1" r="1.5" fill="#8a7c6a"/>
<circle cx="287.4" cy="492.8" r="1.5" fill="#8a7c6a"/>
<circle cx="274.6" cy="478.7" r="1.5" fill="#8a7c6a"/>
<circle cx="281.6" cy="495.6" r="1.5" fill="#8a7c6a"/>
<circle cx="277.9" cy="470.7" r="1.5" fill="#8a7c6a"/>
<circle cx="286.9" cy="506.6" r="1.5" fill="#8a7c6a"/>
<circle cx="277.1" cy="471.9" r="1.5" fill="#8a7c6a"/>
<circle cx="274.2" cy="489.8" r="1.5" fill="#8a7c6a"/>
<circle cx="271.9" cy="472.3" r="1.5" fill="#8a7c6a"/>
<circle cx="288.1" cy="488.5" r="1.5" fill="#8a7c6a"/>
<circle cx="288.5" cy="500.8" r="1.5" fill="#8a7c6a"/>
<circle cx="275.0" cy="494.5" r="1.5" fill="#8a7c6a"/>
<circle cx="268.0" cy="495.7" r="1.5" fill="#8a7c6a"/>
<circle cx="283.0" cy="496.2" r="1.5" fill="#8a7c6a"/>
<circle cx="284.1" cy="476.5" r="1.5" fill="#8a7c6a"/>
<circle cx="268.6" cy="474.5" r="1.5" fill="#8a7c6a"/>
<circle cx="286.0" cy="484.9" r="1.5" fill="#8a7c6a"/>
<circle cx="287.1" cy="497.8" r="1.5" fill="#8a7c6a"/>
<circle cx="288.2" cy="489.4" r="1.5" fill="#8a7c6a"/>
<circle cx="271.8" cy="500.5" r="1.5" fill="#8a7c6a"/>
<circle cx="269.6" cy="490.5" r="1.5" fill="#8a7c6a"/>
<circle cx="285.8" cy="524.0" r="1.5" fill="#8a7c6a"/>
<circle cx="273.7" cy="503.6" r="1.5" fill="#8a7c6a"/>
<circle cx="269.4" cy="472.7" r="1.5" fill="#8a7c6a"/>
<circle cx="271.8" cy="515.5" r="1.5" fill="#8a7c6a"/>
<circle cx="274.4" cy="509.0" r="1.5" fill="#8a7c6a"/>
<circle cx="268.8" cy="434.5" r="1.5" fill="#8a7c6a"/>
<circle cx="280.4" cy="440.8" r="1.5" fill="#8a7c6a"/>
<circle cx="268.5" cy="451.3" r="1.5" fill="#8a7c6a"/>
<circle cx="282.9" cy="451.1" r="1.5" fill="#8a7c6a"/>
<circle cx="283.8" cy="454.2" r="1.5" fill="#8a7c6a"/>
<circle cx="270.3" cy="455.6" r="1.5" fill="#8a7c6a"/>
<circle cx="279.9" cy="456.3" r="1.5" fill="#8a7c6a"/>
<circle cx="286.6" cy="459.2" r="1.5" fill="#8a7c6a"/>
<circle cx="279.3" cy="459.8" r="1.5" fill="#8a7c6a"/>
<circle cx="283.3" cy="546.4" r="1.5" fill="#8a7c6a"/>
<circle cx="270.6" cy="542.3" r="1.5" fill="#8a7c6a"/>
<circle cx="268.2" cy="535.6" r="1.5" fill="#8a7c6a"/>
<circle cx="271.0" cy="533.8" r="1.5" fill="#8a7c6a"/>
<circle cx="271.2" cy="532.8" r="1.5" fill="#8a7c6a"/>
<circle cx="275.9" cy="526.3" r="1.5" fill="#8a7c6a"/>
<circle cx="287.8" cy="530.0" r="1.5" fill="#8a7c6a"/>
<circle cx="289.0" cy="528.0" r="1.5" fill="#8a7c6a"/>
<circle cx="285.6" cy="525.2" r="1.5" fill="#8a7c6a"/>
<circle cx="265.8" cy="520.5" r="1.5" fill="#8a7c6a"/>
<circle cx="278.2" cy="524.0" r="1.5" fill="#8a7c6a"/>
<circle cx="328.0" cy="479.9" r="1.6" fill="#1010f0"/>
<circle cx="329.9" cy="479.4" r="1.6" fill="#1010f0"/>
<circle cx="335.9" cy="486.5" r="1.6" fill="#1010f0"/>
<circle cx="324.6" cy="491.5" r="1.6" fill="#1010f0"/>
<circle cx="334.6" cy="494.9" r="1.6" fill="#1010f0"/>
<circle cx="340.6" cy="496.2" r="1.6" fill="#1010f0"/>
<circle cx="335.9" cy="498.8" r="1.6" fill="#1010f0"/>
<circle cx="340.6" cy="500.9" r="1.6" fill="#1010f0"/>
<circle cx="323.6" cy="504.1" r="1.6" fill="#1010f0"/>
<circle cx="330.6" cy="505.4" r="1.6" fill="#1010f0"/>
<circle cx="338.5" cy="505.4" r="1.6" fill="#1010f0"/>
<circle cx="335.1" cy="509.3" r="1.6" fill="#1010f0"/>
<circle cx="336.4" cy="507.5" r="1.6" fill="#1010f0"/>
<circle cx="326.7" cy="513.3" r="1.6" fill="#1010f0"/>
<circle cx="328.5" cy="514.6" r="1.6" fill="#1010f0"/>
<circle cx="337.7" cy="517.7" r="1.6" fill="#1010f0"/>
<circle cx="324.6" cy="519.8" r="1.6" fill="#1010f0"/>
<circle cx="330.6" cy="529.6" r="1.6" fill="#1010f0"/>
<circle cx="340.6" cy="531.1" r="1.6" fill="#1010f0"/>
<circle cx="336.4" cy="550.6" r="1.6" fill="#1010f0"/>
<circle cx="390.8" cy="485.3" r="1.55" fill="#008b8b"/>
<circle cx="375.2" cy="489.6" r="1.55" fill="#008b8b"/>
<circle cx="377.9" cy="494.1" r="1.55" fill="#008b8b"/>
<circle cx="386.2" cy="495.5" r="1.55" fill="#008b8b"/>
<circle cx="391.6" cy="495.3" r="1.55" fill="#008b8b"/>
<circle cx="395.2" cy="498.1" r="1.55" fill="#008b8b"/>
<circle cx="386.2" cy="499.5" r="1.55" fill="#008b8b"/>
<circle cx="395.8" cy="500.3" r="1.55" fill="#008b8b"/>
<circle cx="380.9" cy="501.2" r="1.55" fill="#008b8b"/>
<circle cx="376.5" cy="505.0" r="1.55" fill="#008b8b"/>
<circle cx="379.8" cy="504.3" r="1.55" fill="#008b8b"/>
<circle cx="388.5" cy="503.3" r="1.55" fill="#008b8b"/>
<circle cx="390.5" cy="506.0" r="1.55" fill="#008b8b"/>
<circle cx="391.3" cy="506.9" r="1.55" fill="#008b8b"/>
<circle cx="394.1" cy="506.0" r="1.55" fill="#008b8b"/>
<circle cx="394.4" cy="506.7" r="1.55" fill="#008b8b"/>
<circle cx="378.2" cy="509.8" r="1.55" fill="#008b8b"/>
<circle cx="377.9" cy="511.6" r="1.55" fill="#008b8b"/>
<circle cx="383.8" cy="509.8" r="1.55" fill="#008b8b"/>
<circle cx="385.2" cy="511.6" r="1.55" fill="#008b8b"/>
<circle cx="387.5" cy="511.2" r="1.55" fill="#008b8b"/>
<circle cx="380.4" cy="514.8" r="1.55" fill="#008b8b"/>
<circle cx="383.8" cy="515.0" r="1.55" fill="#008b8b"/>
<circle cx="378.2" cy="517.1" r="1.55" fill="#008b8b"/>
<circle cx="388.0" cy="517.1" r="1.55" fill="#008b8b"/>
<circle cx="388.5" cy="518.4" r="1.55" fill="#008b8b"/>
<circle cx="392.1" cy="516.1" r="1.55" fill="#008b8b"/>
<circle cx="396.4" cy="514.2" r="1.55" fill="#008b8b"/>
<circle cx="396.1" cy="517.8" r="1.55" fill="#008b8b"/>
<circle cx="396.3" cy="519.0" r="1.55" fill="#008b8b"/>
<circle cx="376.5" cy="519.8" r="1.55" fill="#008b8b"/>
<circle cx="380.1" cy="519.5" r="1.55" fill="#008b8b"/>
<circle cx="384.0" cy="520.2" r="1.55" fill="#008b8b"/>
<circle cx="387.7" cy="519.8" r="1.55" fill="#008b8b"/>
<circle cx="390.5" cy="521.3" r="1.55" fill="#008b8b"/>
<circle cx="380.4" cy="523.6" r="1.55" fill="#008b8b"/>
<circle cx="389.4" cy="523.6" r="1.55" fill="#008b8b"/>
<circle cx="375.2" cy="524.5" r="1.55" fill="#008b8b"/>
<circle cx="386.5" cy="525.9" r="1.55" fill="#008b8b"/>
<circle cx="386.0" cy="527.0" r="1.55" fill="#008b8b"/>
<circle cx="394.4" cy="525.2" r="1.55" fill="#008b8b"/>
<circle cx="384.9" cy="528.1" r="1.55" fill="#008b8b"/>
<circle cx="391.3" cy="527.9" r="1.55" fill="#008b8b"/>
<circle cx="381.3" cy="531.0" r="1.55" fill="#008b8b"/>
<circle cx="385.7" cy="530.7" r="1.55" fill="#008b8b"/>
<circle cx="389.1" cy="530.7" r="1.55" fill="#008b8b"/>
<circle cx="396.1" cy="533.5" r="1.55" fill="#008b8b"/>
<circle cx="375.9" cy="535.8" r="1.55" fill="#008b8b"/>
<circle cx="383.8" cy="543.8" r="1.55" fill="#008b8b"/>
<circle cx="386.9" cy="542.6" r="1.55" fill="#008b8b"/>
<line x1="246.4" y1="504.2" x2="418" y2="504.2" stroke="#f01c1c" stroke-opacity="1" stroke-width="1.5" stroke-dasharray="5,4.5"/>
<text x="0" y="0" font-size="10.9" fill="#222" text-anchor="end" transform="translate(284,568.5) rotate(-45)">Aβ-</text>
<text x="0" y="0" font-size="10.9" fill="#222" text-anchor="end" transform="translate(337.5,568.5) rotate(-45)">Transition</text>
<text x="0" y="0" font-size="10.9" fill="#222" text-anchor="end" transform="translate(391.5,568.5) rotate(-45)">Aβ+</text>
<line x1="441.5" y1="567.1913913913913" x2="654.8" y2="370.11841841841834" stroke="#c8c8c8" stroke-width="1.1"/>
<line x1="448.5" y1="560.3" x2="448.5" y2="375.19999999999993" stroke="#7a7a7a" stroke-width="1.0"/>
<line x1="448.5" y1="560.3" x2="649.3" y2="560.3" stroke="#7a7a7a" stroke-width="1.2"/>
<line x1="443.7" y1="559.8" x2="448.5" y2="559.8" stroke="#7a7a7a" stroke-width="1.1"/>
<line x1="449.5" y1="560.3" x2="449.5" y2="564.3" stroke="#7a7a7a" stroke-width="1.1"/>
<line x1="443.7" y1="513.65" x2="448.5" y2="513.65" stroke="#7a7a7a" stroke-width="1.1"/>
<line x1="499.45" y1="560.3" x2="499.45" y2="564.3" stroke="#7a7a7a" stroke-width="1.1"/>
<line x1="443.7" y1="467.49999999999994" x2="448.5" y2="467.49999999999994" stroke="#7a7a7a" stroke-width="1.1"/>
<line x1="549.4" y1="560.3" x2="549.4" y2="564.3" stroke="#7a7a7a" stroke-width="1.1"/>
<line x1="443.7" y1="421.34999999999997" x2="448.5" y2="421.34999999999997" stroke="#7a7a7a" stroke-width="1.1"/>
<line x1="599.35" y1="560.3" x2="599.35" y2="564.3" stroke="#7a7a7a" stroke-width="1.1"/>
<line x1="443.7" y1="375.19999999999993" x2="448.5" y2="375.19999999999993" stroke="#7a7a7a" stroke-width="1.1"/>
<line x1="649.3" y1="560.3" x2="649.3" y2="564.3" stroke="#7a7a7a" stroke-width="1.1"/>
<path d="M449.5,560.2 L451.3,559.4 L451.8,553 L452.7,548.4 L453.2,543 L454.1,539.3 L455,534.7 L455.4,529.2 L456.4,525.6 L457.7,525.1 L458.2,519.2 L458.8,515.5 L460.5,515 L460.9,512.3 L462.3,511.4 L465,508.6 L470.6,508 L471.2,504.9 L474,504.6 L474.3,501.7 L478.1,501.1 L478.7,497.9 L482.4,498 L482.7,488 L485.6,487.4 L486.2,484.3 L489.9,484.3 L490.5,481.2 L492.4,474.3 L498.7,473.9 L499.3,471.2 L501.8,469.3 L502.4,466.8 L504.3,461.2 L506.1,460 L508.6,453.7 L513.6,453.5 L514.6,450.6 L516.3,449.6 L517,446.9 L520.7,446.5 L520.9,443.2 L526.3,442.9 L526.7,439.9 L531.6,439.5 L532,436.6 L537.2,436.3 L537.6,433.2 L547.8,432.8 L548.2,429.9 L556.6,429.6 L556.9,423.2 L559.5,419.9 L565.1,419.7 L565.5,416.4 L576.4,416.1 L576.8,413.2 L586.6,412.9 L587,409.5 L600.6,409.1 L600.9,403.2 L602.3,399.7 L608.9,399.3 L609.3,396 L617.2,395.7 L617.7,392.4 L625.4,392 L626,389.1 L633,388.6 L633.7,385.7 L636.6,385.4 L637.4,382.2 L638.8,378.9 L644.4,378.4 L645,375.5 L649,375.5" stroke="#ff3b3b" stroke-width="1.35" fill="none" stroke-linejoin="miter"/>
<path d="M449.5,560.2 L450,553 L452.7,552.6 L453.6,550.3 L455.4,549.4 L456.4,545.7 L457.3,536.5 L458.6,535.6 L459.1,529.2 L460.5,528.8 L460.9,521 L461.4,512.7 L462.5,509.9 L464.4,505.5 L467.5,504.9 L468.1,501.7 L469.3,499.9 L470,497.4 L470.6,488.6 L471.8,483.7 L472.5,472.4 L473.7,471.2 L474.3,464.3 L479.3,464.3 L479.7,457.5 L480.6,454.3 L481.8,450.6 L487.7,450.2 L487.7,440.5 L488.7,437.2 L491.7,436.8 L491.9,430.6 L497.6,430.2 L498,423.5 L499.4,422.6 L499.6,416.6 L502.3,416.3 L503,413.3 L504.3,409.7 L508.3,409.3 L508.7,406.2 L520.3,405.9 L520.7,402.6 L522.9,401.9 L523.6,399.3 L525.6,396 L529.2,395.7 L529.6,392.4 L536.2,392 L536.6,389.3 L538.2,386 L543.6,385.7 L544,382.2 L566.6,382.2 L567,378.9 L582.2,378.9 L582.6,375.5 L649,375.5" stroke="#3ec3f3" stroke-width="1.35" fill="none" stroke-linejoin="miter"/>
<text x="453.4" y="348" font-size="17.5" fill="#111" font-weight="normal" text-anchor="start" textLength="13.8" lengthAdjust="spacingAndGlyphs">F)</text>
<text x="0" y="0" font-size="10.2" fill="#000" font-weight="normal" text-anchor="middle" textLength="18.6" lengthAdjust="spacingAndGlyphs" transform="translate(439,514) rotate(-90)">0.25</text>
<text x="0" y="0" font-size="10.2" fill="#000" font-weight="normal" text-anchor="middle" textLength="18.6" lengthAdjust="spacingAndGlyphs" transform="translate(439,465.7) rotate(-90)">0.50</text>
<text x="0" y="0" font-size="10.2" fill="#000" font-weight="normal" text-anchor="middle" textLength="18.6" lengthAdjust="spacingAndGlyphs" transform="translate(439,416.5) rotate(-90)">0.75</text>
<text x="0" y="0" font-size="10.2" fill="#000" font-weight="normal" text-anchor="middle" textLength="18.6" lengthAdjust="spacingAndGlyphs" transform="translate(439,366.4) rotate(-90)">1.00</text>
<text x="0" y="0" font-size="11" fill="#111" font-weight="normal" text-anchor="middle" textLength="52.4" lengthAdjust="spacingAndGlyphs" transform="translate(428.4,465) rotate(-90)">Sensitivity</text>
<text x="450.2" y="573.5" font-size="10" fill="#000" font-weight="normal" text-anchor="middle">0</text>
<text x="499.6" y="574.6" font-size="10" fill="#000" font-weight="normal" text-anchor="middle" textLength="18.2" lengthAdjust="spacingAndGlyphs">0.25</text>
<text x="549.3" y="574.6" font-size="10" fill="#000" font-weight="normal" text-anchor="middle" textLength="18.2" lengthAdjust="spacingAndGlyphs">0.50</text>
<text x="598.9" y="574.6" font-size="10" fill="#000" font-weight="normal" text-anchor="middle" textLength="18.2" lengthAdjust="spacingAndGlyphs">0.75</text>
<text x="656.5" y="574.6" font-size="10" fill="#000" font-weight="normal" text-anchor="middle" textLength="18.2" lengthAdjust="spacingAndGlyphs">1.00</text>
<text x="526.6" y="586" font-size="12" fill="#111" font-weight="normal" text-anchor="start" textLength="64.4" lengthAdjust="spacingAndGlyphs">1- Specificity</text>
<line x1="488" y1="527.7" x2="500.3" y2="527.7" stroke="#ff7a7a" stroke-width="0.9"/>
<line x1="488" y1="537" x2="500.3" y2="537" stroke="#7fd6f5" stroke-width="0.9"/>
<text x="506.4" y="531.4" font-size="9.2" fill="#000" font-weight="bold" text-anchor="start" textLength="110.1" lengthAdjust="spacingAndGlyphs">V1.0 : AUC =0.65 (0.57-0.74)</text>
<text x="506.4" y="540.5" font-size="9.2" fill="#000" font-weight="bold" text-anchor="start" textLength="119.8" lengthAdjust="spacingAndGlyphs">V2.0 IS : AUC =0.82 (0.77-0.87)</text>
</svg></body></html>
